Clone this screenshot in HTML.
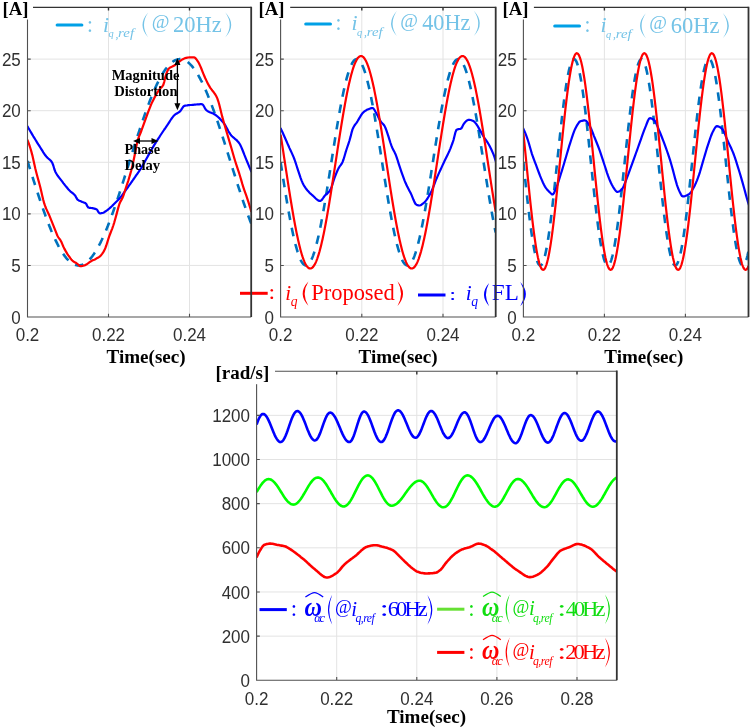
<!DOCTYPE html>
<html><head><meta charset="utf-8"><style>
html,body{margin:0;padding:0;background:#fff;width:751px;height:728px;overflow:hidden}
svg{display:block;will-change:transform}
</style></head><body><svg width="751" height="728" viewBox="0 0 751 728"><defs><clipPath id="c0"><rect x="27.5" y="7.4" width="223.7" height="309.6"/></clipPath><clipPath id="c1"><rect x="280.6" y="7.4" width="215.1" height="309.6"/></clipPath><clipPath id="c2"><rect x="523.4" y="7.4" width="225.1" height="309.6"/></clipPath><clipPath id="cb"><rect x="256.6" y="371.2" width="360.2" height="309.1"/></clipPath></defs><path d="M27.5 265.43H251.2M27.5 213.85H251.2M27.5 162.28H251.2M27.5 110.70H251.2M27.5 59.12H251.2M108.50 7.4V317.0M189.50 7.4V317.0M280.6 265.43H495.7M280.6 213.85H495.7M280.6 162.28H495.7M280.6 110.70H495.7M280.6 59.12H495.7M361.80 7.4V317.0M443.00 7.4V317.0M523.4 265.43H748.5M523.4 213.85H748.5M523.4 162.28H748.5M523.4 110.70H748.5M523.4 59.12H748.5M604.40 7.4V317.0M685.40 7.4V317.0M256.6 636.14H616.8M256.6 591.98H616.8M256.6 547.82H616.8M256.6 503.66H616.8M256.6 459.50H616.8M256.6 415.34H616.8M336.70 371.2V680.30M416.80 371.2V680.30M496.90 371.2V680.30M577.00 371.2V680.30" stroke="#e3e3e3" stroke-width="1" fill="none"/><g clip-path="url(#c0)" fill="none" stroke-linejoin="round"><path d="M27.5 161.0L28.0 162.6L28.5 164.2L29.0 165.8L29.5 167.4L30.0 169.0L30.5 170.6L31.0 172.2L31.5 173.7L32.0 175.3L32.5 176.9L33.0 178.5L33.5 180.1L34.0 181.6L34.5 183.2L35.0 184.8L35.5 186.3L36.0 187.9L36.5 189.4L37.0 191.0L37.5 192.5L38.0 194.0L38.5 195.5L39.0 197.0L39.5 198.5L40.0 200.0L40.5 201.5L41.0 203.0L41.5 204.5L42.0 205.9L42.5 207.4L43.0 208.8L43.5 210.2L44.0 211.6L44.5 213.0L45.0 214.4L45.5 215.8L46.0 217.1L46.5 218.5L47.0 219.8L47.5 221.1L48.0 222.4L48.5 223.7L49.0 225.0L49.5 226.3L50.0 227.5L50.5 228.7L51.0 230.0L51.5 231.2L52.0 232.3L52.5 233.5L53.0 234.6L53.5 235.8L54.0 236.9L54.5 238.0L55.0 239.1L55.5 240.1L56.0 241.2L56.5 242.2L57.0 243.2L57.5 244.2L58.0 245.1L58.5 246.1L59.0 247.0L59.5 247.9L60.0 248.8L60.5 249.6L61.0 250.5L61.5 251.3L62.0 252.1L62.5 252.9L63.0 253.6L63.5 254.3L64.0 255.1L64.5 255.7L65.0 256.4L65.5 257.0L66.0 257.7L66.5 258.3L67.0 258.8L67.5 259.4L68.0 259.9L68.5 260.4L69.0 260.9L69.5 261.4L70.0 261.8L70.5 262.2L71.0 262.6L71.5 262.9L72.0 263.3L72.5 263.6L73.0 263.9L73.5 264.1L74.0 264.4L74.5 264.6L75.0 264.8L75.5 265.0L76.0 265.1L76.5 265.2L77.0 265.3L77.5 265.4L78.0 265.4L78.5 265.4L79.0 265.4L79.5 265.4L80.0 265.3L80.5 265.2L81.0 265.1L81.5 265.0L82.0 264.9L82.5 264.7L83.0 264.5L83.5 264.2L84.0 264.0L84.5 263.7L85.0 263.4L85.5 263.1L86.0 262.7L86.5 262.3L87.0 261.9L87.5 261.5L88.0 261.1L88.5 260.6L89.0 260.1L89.5 259.6L90.0 259.0L90.5 258.5L91.0 257.9L91.5 257.3L92.0 256.6L92.5 256.0L93.0 255.3L93.5 254.6L94.0 253.9L94.5 253.1L95.0 252.4L95.5 251.6L96.0 250.8L96.5 249.9L97.0 249.1L97.5 248.2L98.0 247.3L98.5 246.4L99.0 245.5L99.5 244.5L100.0 243.5L100.5 242.6L101.0 241.5L101.5 240.5L102.0 239.5L102.5 238.4L103.0 237.3L103.5 236.2L104.0 235.1L104.5 233.9L105.0 232.8L105.5 231.6L106.0 230.4L106.5 229.2L107.0 228.0L107.5 226.7L108.0 225.5L108.5 224.2L109.0 222.9L109.5 221.6L110.0 220.3L110.5 219.0L111.0 217.6L111.5 216.3L112.0 214.9L112.5 213.5L113.0 212.1L113.5 210.7L114.0 209.3L114.5 207.9L115.0 206.4L115.5 205.0L116.0 203.5L116.5 202.1L117.0 200.6L117.5 199.1L118.0 197.6L118.5 196.1L119.0 194.6L119.5 193.1L120.0 191.5L120.5 190.0L121.0 188.5L121.5 186.9L122.0 185.4L122.5 183.8L123.0 182.2L123.5 180.7L124.0 179.1L124.5 177.5L125.0 175.9L125.5 174.3L126.0 172.7L126.5 171.2L127.0 169.6L127.5 168.0L128.0 166.4L128.5 164.8L129.0 163.2L129.5 161.6L130.0 160.0L130.5 158.4L131.0 156.8L131.5 155.2L132.0 153.6L132.5 152.0L133.0 150.4L133.5 148.8L134.0 147.2L134.5 145.7L135.0 144.1L135.5 142.5L136.0 141.0L136.5 139.4L137.0 137.8L137.5 136.3L138.0 134.7L138.5 133.2L139.0 131.7L139.5 130.2L140.0 128.6L140.5 127.1L141.0 125.6L141.5 124.1L142.0 122.7L142.5 121.2L143.0 119.7L143.5 118.3L144.0 116.8L144.5 115.4L145.0 114.0L145.5 112.6L146.0 111.2L146.5 109.8L147.0 108.4L147.5 107.1L148.0 105.7L148.5 104.4L149.0 103.1L149.5 101.8L150.0 100.5L150.5 99.2L151.0 98.0L151.5 96.7L152.0 95.5L152.5 94.3L153.0 93.1L153.5 91.9L154.0 90.8L154.5 89.6L155.0 88.5L155.5 87.4L156.0 86.3L156.5 85.2L157.0 84.2L157.5 83.1L158.0 82.1L158.5 81.1L159.0 80.1L159.5 79.2L160.0 78.3L160.5 77.3L161.0 76.4L161.5 75.6L162.0 74.7L162.5 73.9L163.0 73.1L163.5 72.3L164.0 71.5L164.5 70.8L165.0 70.0L165.5 69.3L166.0 68.6L166.5 68.0L167.0 67.3L167.5 66.7L168.0 66.1L168.5 65.6L169.0 65.0L169.5 64.5L170.0 64.0L170.5 63.5L171.0 63.1L171.5 62.7L172.0 62.3L172.5 61.9L173.0 61.5L173.5 61.2L174.0 60.9L174.5 60.6L175.0 60.3L175.5 60.1L176.0 59.9L176.5 59.7L177.0 59.6L177.5 59.4L178.0 59.3L178.5 59.2L179.0 59.2L179.5 59.1L180.0 59.1L180.5 59.1L181.0 59.2L181.5 59.2L182.0 59.3L182.5 59.4L183.0 59.6L183.5 59.7L184.0 59.9L184.5 60.1L185.0 60.4L185.5 60.6L186.0 60.9L186.5 61.2L187.0 61.6L187.5 61.9L188.0 62.3L188.5 62.7L189.0 63.1L189.5 63.6L190.0 64.1L190.5 64.6L191.0 65.1L191.5 65.6L192.0 66.2L192.5 66.8L193.0 67.4L193.5 68.1L194.0 68.7L194.5 69.4L195.0 70.1L195.5 70.8L196.0 71.6L196.5 72.4L197.0 73.2L197.5 74.0L198.0 74.8L198.5 75.7L199.0 76.6L199.5 77.5L200.0 78.4L200.5 79.3L201.0 80.3L201.5 81.2L202.0 82.2L202.5 83.3L203.0 84.3L203.5 85.4L204.0 86.4L204.5 87.5L205.0 88.6L205.5 89.8L206.0 90.9L206.5 92.1L207.0 93.3L207.5 94.4L208.0 95.7L208.5 96.9L209.0 98.1L209.5 99.4L210.0 100.7L210.5 102.0L211.0 103.3L211.5 104.6L212.0 105.9L212.5 107.3L213.0 108.6L213.5 110.0L214.0 111.4L214.5 112.8L215.0 114.2L215.5 115.6L216.0 117.0L216.5 118.5L217.0 119.9L217.5 121.4L218.0 122.8L218.5 124.3L219.0 125.8L219.5 127.3L220.0 128.8L220.5 130.3L221.0 131.9L221.5 133.4L222.0 134.9L222.5 136.5L223.0 138.0L223.5 139.6L224.0 141.2L224.5 142.7L225.0 144.3L225.5 145.9L226.0 147.4L226.5 149.0L227.0 150.6L227.5 152.2L228.0 153.8L228.5 155.4L229.0 157.0L229.5 158.6L230.0 160.2L230.5 161.8L231.0 163.4L231.5 165.0L232.0 166.6L232.5 168.2L233.0 169.8L233.5 171.4L234.0 172.9L234.5 174.5L235.0 176.1L235.5 177.7L236.0 179.3L236.5 180.9L237.0 182.4L237.5 184.0L238.0 185.6L238.5 187.1L239.0 188.7L239.5 190.2L240.0 191.7L240.5 193.3L241.0 194.8L241.5 196.3L242.0 197.8L242.5 199.3L243.0 200.8L243.5 202.3L244.0 203.7L244.5 205.2L245.0 206.6L245.5 208.1L246.0 209.5L246.5 210.9L247.0 212.3L247.5 213.7L248.0 215.1L248.5 216.5L249.0 217.8L249.5 219.1L250.0 220.5L250.5 221.8L251.0 223.1L251.2 223.6" stroke="#0072bd" stroke-width="2.6" stroke-dasharray="8.6 8"/><path d="M27.3 126.0L28.3 127.8L29.3 129.5L30.3 131.2L31.3 132.9L32.3 134.6L33.3 136.3L34.3 137.9L35.3 139.5L36.3 141.2L37.3 142.8L38.3 144.4L39.3 145.9L40.3 147.5L41.3 149.1L42.3 150.7L43.3 152.3L44.3 153.8L45.3 155.3L46.3 156.5L47.3 157.6L48.3 158.5L49.3 159.3L50.3 160.2L51.3 161.3L52.3 162.8L53.3 165.5L54.3 169.0L55.3 171.7L56.3 173.5L57.3 175.1L58.3 176.5L59.3 177.8L60.3 179.1L61.3 180.4L62.3 181.7L63.3 183.1L64.3 184.3L65.3 185.6L66.3 186.8L67.3 188.0L68.3 189.2L69.3 190.3L70.3 191.3L71.3 192.1L72.3 192.9L73.3 193.7L74.3 194.6L75.3 195.8L76.3 197.7L77.3 199.3L78.3 200.1L79.3 200.7L80.3 201.1L81.3 201.5L82.3 202.0L83.3 202.3L84.3 202.7L85.3 203.1L86.3 204.0L87.3 206.2L88.3 207.5L89.3 207.8L90.3 207.9L91.3 208.0L92.3 208.1L93.3 208.3L94.3 208.6L95.3 208.9L96.3 209.2L97.3 210.0L98.3 211.9L99.3 213.2L100.3 213.3L101.3 213.2L102.3 213.0L103.3 212.7L104.3 212.2L105.3 211.5L106.3 210.8L107.3 210.1L108.3 209.3L109.3 208.5L110.3 207.6L111.3 206.7L112.3 205.8L113.3 204.7L114.3 203.7L115.3 202.7L116.3 201.7L117.3 200.8L118.3 199.8L119.3 198.7L120.3 197.6L121.3 196.3L122.3 195.0L123.3 193.6L124.3 192.2L125.3 190.8L126.3 189.4L127.3 188.0L128.3 186.6L129.3 185.2L130.3 183.8L131.3 182.4L132.3 181.0L133.3 179.5L134.3 178.1L135.3 176.7L136.3 175.2L137.3 173.8L138.3 172.4L139.3 170.9L140.3 169.4L141.3 167.8L142.3 166.1L143.3 164.4L144.3 162.6L145.3 160.8L146.3 159.0L147.3 157.2L148.3 155.4L149.3 153.6L150.3 151.8L151.3 150.0L152.3 148.3L153.3 146.6L154.3 144.9L155.3 143.3L156.3 141.7L157.3 140.2L158.3 138.6L159.3 137.1L160.3 135.5L161.3 134.0L162.3 132.5L163.3 131.0L164.3 129.5L165.3 128.1L166.3 126.6L167.3 125.2L168.3 123.7L169.3 122.1L170.3 120.5L171.3 119.0L172.3 117.6L173.3 116.3L174.3 115.3L175.3 114.4L176.3 113.8L177.3 113.2L178.3 112.6L179.3 112.0L180.3 111.1L181.3 109.7L182.3 108.1L183.3 106.7L184.3 105.9L185.3 105.7L186.3 105.5L187.3 105.4L188.3 105.2L189.3 105.1L190.3 105.0L191.3 105.0L192.3 104.9L193.3 104.8L194.3 104.7L195.3 104.6L196.3 104.5L197.3 104.4L198.3 104.3L199.3 104.3L200.3 104.2L201.3 104.2L202.3 104.3L203.3 105.3L204.3 107.0L205.3 108.9L206.3 110.2L207.3 110.9L208.3 111.5L209.3 112.0L210.3 112.4L211.3 112.8L212.3 113.2L213.3 113.6L214.3 114.2L215.3 114.8L216.3 115.5L217.3 116.3L218.3 117.2L219.3 118.1L220.3 119.2L221.3 120.3L222.3 121.4L223.3 122.6L224.3 123.9L225.3 125.4L226.3 127.2L227.3 129.1L228.3 131.0L229.3 132.7L230.3 134.2L231.3 135.5L232.3 136.5L233.3 137.4L234.3 138.2L235.3 139.1L236.3 139.9L237.3 140.9L238.3 142.0L239.3 143.3L240.3 145.0L241.3 147.1L242.3 149.5L243.3 152.0L244.3 154.7L245.3 157.2L246.3 159.6L247.3 162.0L248.3 164.4L249.3 166.8L250.3 169.2L251.3 171.7L251.4 171.9" stroke="#0000ff" stroke-width="2.2"/><path d="M27.3 139.6L28.3 142.1L29.3 144.9L30.3 148.0L31.3 151.4L32.3 155.1L33.3 159.4L34.3 164.1L35.3 168.6L36.3 172.5L37.3 176.3L38.3 179.9L39.3 183.5L40.3 187.3L41.3 191.5L42.3 195.9L43.3 200.0L44.3 203.7L45.3 206.5L46.3 208.9L47.3 211.1L48.3 213.2L49.3 215.4L50.3 217.8L51.3 220.3L52.3 222.8L53.3 225.3L54.3 227.8L55.3 230.3L56.3 232.9L57.3 235.5L58.3 237.3L59.3 238.6L60.3 240.0L61.3 241.8L62.3 244.1L63.3 246.5L64.3 248.6L65.3 250.4L66.3 252.2L67.3 253.8L68.3 255.3L69.3 256.7L70.3 258.1L71.3 259.4L72.3 260.5L73.3 261.4L74.3 262.0L75.3 262.6L76.3 263.1L77.3 263.8L78.3 264.7L79.3 265.6L80.3 266.2L81.3 266.2L82.3 266.0L83.3 265.7L84.3 265.4L85.3 265.1L86.3 264.6L87.3 263.9L88.3 263.2L89.3 262.4L90.3 261.7L91.3 261.1L92.3 260.6L93.3 260.1L94.3 259.7L95.3 259.2L96.3 258.6L97.3 258.1L98.3 257.5L99.3 256.9L100.3 256.0L101.3 254.9L102.3 253.6L103.3 252.1L104.3 250.4L105.3 248.2L106.3 245.5L107.3 242.3L108.3 239.1L109.3 236.1L110.3 233.5L111.3 230.9L112.3 228.3L113.3 225.5L114.3 222.3L115.3 218.7L116.3 215.1L117.3 211.4L118.3 207.6L119.3 204.2L120.3 201.9L121.3 200.1L122.3 198.3L123.3 195.8L124.3 192.8L125.3 189.5L126.3 186.5L127.3 183.6L128.3 180.6L129.3 177.3L130.3 173.9L131.3 170.3L132.3 166.2L133.3 161.7L134.3 157.0L135.3 152.0L136.3 146.5L137.3 141.7L138.3 138.5L139.3 135.9L140.3 133.5L141.3 131.0L142.3 128.2L143.3 125.4L144.3 122.6L145.3 119.8L146.3 117.1L147.3 114.4L148.3 111.7L149.3 109.1L150.3 106.6L151.3 104.2L152.3 101.9L153.3 99.9L154.3 97.9L155.3 96.1L156.3 94.3L157.3 92.6L158.3 91.1L159.3 89.6L160.3 88.4L161.3 87.5L162.3 86.4L163.3 84.9L164.3 81.6L165.3 77.0L166.3 73.7L167.3 71.3L168.3 69.3L169.3 68.1L170.3 67.4L171.3 67.0L172.3 66.6L173.3 66.1L174.3 65.6L175.3 64.8L176.3 64.0L177.3 63.1L178.3 62.2L179.3 61.5L180.3 60.8L181.3 60.1L182.3 59.4L183.3 58.9L184.3 58.5L185.3 58.1L186.3 57.8L187.3 57.6L188.3 57.5L189.3 57.4L190.3 57.4L191.3 57.3L192.3 57.3L193.3 57.3L194.3 57.3L195.3 58.0L196.3 59.2L197.3 60.6L198.3 62.1L199.3 64.0L200.3 66.1L201.3 68.5L202.3 71.1L203.3 73.6L204.3 76.0L205.3 78.3L206.3 80.4L207.3 82.4L208.3 84.4L209.3 86.2L210.3 87.8L211.3 89.2L212.3 90.5L213.3 91.7L214.3 93.1L215.3 94.5L216.3 96.3L217.3 98.4L218.3 101.3L219.3 104.8L220.3 108.8L221.3 112.9L222.3 116.9L223.3 120.5L224.3 124.0L225.3 127.4L226.3 130.9L227.3 134.3L228.3 137.6L229.3 141.0L230.3 144.4L231.3 147.8L232.3 151.3L233.3 154.7L234.3 158.2L235.3 161.5L236.3 164.6L237.3 167.7L238.3 170.7L239.3 173.7L240.3 177.0L241.3 180.4L242.3 183.9L243.3 187.1L244.3 190.1L245.3 192.9L246.3 195.7L247.3 198.6L248.3 201.7L249.3 204.9L250.3 208.2L251.3 211.7L251.4 212.0" stroke="#ff0000" stroke-width="2.2"/></g><g clip-path="url(#c1)" fill="none" stroke-linejoin="round"><path d="M280.6 162.3L281.1 165.5L281.6 168.7L282.1 171.8L282.6 175.0L283.1 178.2L283.6 181.3L284.1 184.4L284.6 187.6L285.1 190.6L285.6 193.7L286.1 196.7L286.6 199.7L287.1 202.7L287.6 205.6L288.1 208.5L288.6 211.3L289.1 214.1L289.6 216.8L290.1 219.5L290.6 222.1L291.1 224.7L291.6 227.2L292.1 229.7L292.6 232.0L293.1 234.4L293.6 236.6L294.1 238.8L294.6 240.9L295.1 242.9L295.6 244.9L296.1 246.7L296.6 248.5L297.1 250.2L297.6 251.9L298.1 253.4L298.6 254.9L299.1 256.2L299.6 257.5L300.1 258.7L300.6 259.8L301.1 260.8L301.6 261.7L302.1 262.5L302.6 263.2L303.1 263.8L303.6 264.3L304.1 264.7L304.6 265.1L305.1 265.3L305.6 265.4L306.1 265.4L306.6 265.3L307.1 265.2L307.6 264.9L308.1 264.5L308.6 264.1L309.1 263.5L309.6 262.8L310.1 262.1L310.6 261.2L311.1 260.3L311.6 259.2L312.1 258.1L312.6 256.9L313.1 255.6L313.6 254.1L314.1 252.7L314.6 251.1L315.1 249.4L315.6 247.7L316.1 245.8L316.6 243.9L317.1 241.9L317.6 239.8L318.1 237.7L318.6 235.5L319.1 233.2L319.6 230.9L320.1 228.4L320.6 226.0L321.1 223.4L321.6 220.8L322.1 218.2L322.6 215.5L323.1 212.7L323.6 209.9L324.1 207.0L324.6 204.1L325.1 201.2L325.6 198.2L326.1 195.2L326.6 192.2L327.1 189.1L327.6 186.0L328.1 182.9L328.6 179.7L329.1 176.6L329.6 173.4L330.1 170.2L330.6 167.1L331.1 163.9L331.6 160.7L332.1 157.5L332.6 154.3L333.1 151.1L333.6 148.0L334.1 144.8L334.6 141.7L335.1 138.5L335.6 135.4L336.1 132.4L336.6 129.3L337.1 126.3L337.6 123.4L338.1 120.4L338.6 117.5L339.1 114.7L339.6 111.9L340.1 109.1L340.6 106.4L341.1 103.7L341.6 101.1L342.1 98.6L342.6 96.1L343.1 93.7L343.6 91.3L344.1 89.1L344.6 86.8L345.1 84.7L345.6 82.6L346.1 80.6L346.6 78.7L347.1 76.9L347.6 75.1L348.1 73.5L348.6 71.9L349.1 70.4L349.6 69.0L350.1 67.7L350.6 66.5L351.1 65.3L351.6 64.3L352.1 63.3L352.6 62.5L353.1 61.7L353.6 61.0L354.1 60.5L354.6 60.0L355.1 59.6L355.6 59.4L356.1 59.2L356.6 59.1L357.1 59.2L357.6 59.3L358.1 59.5L358.6 59.8L359.1 60.2L359.6 60.8L360.1 61.4L360.6 62.1L361.1 62.9L361.6 63.8L362.1 64.8L362.6 65.9L363.1 67.1L363.6 68.3L364.1 69.7L364.6 71.1L365.1 72.7L365.6 74.3L366.1 76.0L366.6 77.8L367.1 79.7L367.6 81.6L368.1 83.7L368.6 85.8L369.1 87.9L369.6 90.2L370.1 92.5L370.6 94.9L371.1 97.3L371.6 99.9L372.1 102.4L372.6 105.1L373.1 107.7L373.6 110.5L374.1 113.3L374.6 116.1L375.1 119.0L375.6 121.9L376.1 124.8L376.6 127.8L377.1 130.9L377.6 133.9L378.1 137.0L378.6 140.1L379.1 143.2L379.6 146.4L380.1 149.5L380.6 152.7L381.1 155.9L381.6 159.1L382.1 162.3L382.6 165.5L383.1 168.7L383.6 171.8L384.1 175.0L384.6 178.2L385.1 181.3L385.6 184.4L386.1 187.6L386.6 190.6L387.1 193.7L387.6 196.7L388.1 199.7L388.6 202.7L389.1 205.6L389.6 208.5L390.1 211.3L390.6 214.1L391.1 216.8L391.6 219.5L392.1 222.1L392.6 224.7L393.1 227.2L393.6 229.7L394.1 232.0L394.6 234.4L395.1 236.6L395.6 238.8L396.1 240.9L396.6 242.9L397.1 244.9L397.6 246.7L398.1 248.5L398.6 250.2L399.1 251.9L399.6 253.4L400.1 254.9L400.6 256.2L401.1 257.5L401.6 258.7L402.1 259.8L402.6 260.8L403.1 261.7L403.6 262.5L404.1 263.2L404.6 263.8L405.1 264.3L405.6 264.7L406.1 265.1L406.6 265.3L407.1 265.4L407.6 265.4L408.1 265.3L408.6 265.2L409.1 264.9L409.6 264.5L410.1 264.1L410.6 263.5L411.1 262.8L411.6 262.1L412.1 261.2L412.6 260.3L413.1 259.2L413.6 258.1L414.1 256.9L414.6 255.6L415.1 254.1L415.6 252.7L416.1 251.1L416.6 249.4L417.1 247.7L417.6 245.8L418.1 243.9L418.6 241.9L419.1 239.8L419.6 237.7L420.1 235.5L420.6 233.2L421.1 230.9L421.6 228.4L422.1 226.0L422.6 223.4L423.1 220.8L423.6 218.2L424.1 215.5L424.6 212.7L425.1 209.9L425.6 207.0L426.1 204.1L426.6 201.2L427.1 198.2L427.6 195.2L428.1 192.2L428.6 189.1L429.1 186.0L429.6 182.9L430.1 179.7L430.6 176.6L431.1 173.4L431.6 170.2L432.1 167.1L432.6 163.9L433.1 160.7L433.6 157.5L434.1 154.3L434.6 151.1L435.1 148.0L435.6 144.8L436.1 141.7L436.6 138.5L437.1 135.4L437.6 132.4L438.1 129.3L438.6 126.3L439.1 123.4L439.6 120.4L440.1 117.5L440.6 114.7L441.1 111.9L441.6 109.1L442.1 106.4L442.6 103.7L443.1 101.1L443.6 98.6L444.1 96.1L444.6 93.7L445.1 91.3L445.6 89.1L446.1 86.8L446.6 84.7L447.1 82.6L447.6 80.6L448.1 78.7L448.6 76.9L449.1 75.1L449.6 73.5L450.1 71.9L450.6 70.4L451.1 69.0L451.6 67.7L452.1 66.5L452.6 65.3L453.1 64.3L453.6 63.3L454.1 62.5L454.6 61.7L455.1 61.0L455.6 60.5L456.1 60.0L456.6 59.6L457.1 59.4L457.6 59.2L458.1 59.1L458.6 59.2L459.1 59.3L459.6 59.5L460.1 59.8L460.6 60.2L461.1 60.8L461.6 61.4L462.1 62.1L462.6 62.9L463.1 63.8L463.6 64.8L464.1 65.9L464.6 67.1L465.1 68.3L465.6 69.7L466.1 71.1L466.6 72.7L467.1 74.3L467.6 76.0L468.1 77.8L468.6 79.7L469.1 81.6L469.6 83.7L470.1 85.8L470.6 87.9L471.1 90.2L471.6 92.5L472.1 94.9L472.6 97.3L473.1 99.9L473.6 102.4L474.1 105.1L474.6 107.7L475.1 110.5L475.6 113.3L476.1 116.1L476.6 119.0L477.1 121.9L477.6 124.8L478.1 127.8L478.6 130.9L479.1 133.9L479.6 137.0L480.1 140.1L480.6 143.2L481.1 146.4L481.6 149.5L482.1 152.7L482.6 155.9L483.1 159.1L483.6 162.3L484.1 165.5L484.6 168.7L485.1 171.8L485.6 175.0L486.1 178.2L486.6 181.3L487.1 184.4L487.6 187.6L488.1 190.6L488.6 193.7L489.1 196.7L489.6 199.7L490.1 202.7L490.6 205.6L491.1 208.5L491.6 211.3L492.1 214.1L492.6 216.8L493.1 219.5L493.6 222.1L494.1 224.7L494.6 227.2L495.1 229.7L495.6 232.0L495.7 232.5" stroke="#0072bd" stroke-width="2.6" stroke-dasharray="8.6 8"/><path d="M280.5 128.0L281.5 130.2L282.5 132.3L283.5 134.5L284.5 136.8L285.5 139.0L286.5 141.3L287.5 143.6L288.5 145.8L289.5 148.1L290.5 150.2L291.5 152.4L292.5 154.6L293.5 156.9L294.5 159.5L295.5 162.4L296.5 165.5L297.5 168.6L298.5 171.6L299.5 174.6L300.5 177.6L301.5 180.3L302.5 182.7L303.5 184.7L304.5 186.4L305.5 187.9L306.5 189.3L307.5 190.5L308.5 191.6L309.5 192.7L310.5 193.6L311.5 194.5L312.5 195.4L313.5 196.3L314.5 197.3L315.5 198.3L316.5 199.2L317.5 200.0L318.5 200.6L319.5 200.9L320.5 200.9L321.5 200.2L322.5 199.0L323.5 197.5L324.5 196.1L325.5 195.0L326.5 194.1L327.5 193.3L328.5 192.3L329.5 191.2L330.5 189.6L331.5 187.2L332.5 184.2L333.5 181.0L334.5 177.9L335.5 175.3L336.5 172.8L337.5 170.5L338.5 168.4L339.5 166.7L340.5 165.4L341.5 164.0L342.5 162.2L343.5 159.5L344.5 156.2L345.5 152.7L346.5 149.5L347.5 146.5L348.5 143.6L349.5 140.5L350.5 136.9L351.5 132.9L352.5 129.4L353.5 127.2L354.5 125.5L355.5 124.1L356.5 122.8L357.5 121.3L358.5 119.6L359.5 117.9L360.5 116.2L361.5 114.6L362.5 113.2L363.5 112.2L364.5 111.4L365.5 110.7L366.5 110.1L367.5 109.6L368.5 109.2L369.5 108.8L370.5 108.4L371.5 108.1L372.5 108.0L373.5 108.5L374.5 110.0L375.5 111.8L376.5 113.5L377.5 115.4L378.5 117.5L379.5 119.4L380.5 121.2L381.5 122.5L382.5 123.5L383.5 124.5L384.5 125.9L385.5 128.0L386.5 130.7L387.5 133.7L388.5 136.7L389.5 139.8L390.5 143.0L391.5 145.9L392.5 148.2L393.5 150.2L394.5 152.1L395.5 154.2L396.5 156.8L397.5 159.8L398.5 163.1L399.5 166.2L400.5 169.1L401.5 172.1L402.5 174.9L403.5 177.7L404.5 180.4L405.5 182.8L406.5 185.0L407.5 187.1L408.5 189.0L409.5 190.9L410.5 192.8L411.5 194.9L412.5 197.3L413.5 199.8L414.5 202.1L415.5 203.9L416.5 204.8L417.5 205.2L418.5 205.4L419.5 205.5L420.5 205.2L421.5 204.7L422.5 203.9L423.5 203.1L424.5 202.2L425.5 201.2L426.5 199.9L427.5 198.5L428.5 196.8L429.5 195.1L430.5 193.2L431.5 191.2L432.5 188.8L433.5 186.3L434.5 183.8L435.5 181.2L436.5 178.7L437.5 176.4L438.5 174.1L439.5 171.9L440.5 169.7L441.5 167.6L442.5 165.4L443.5 163.3L444.5 161.1L445.5 159.1L446.5 157.0L447.5 155.0L448.5 152.9L449.5 150.7L450.5 148.3L451.5 145.7L452.5 143.0L453.5 140.1L454.5 136.1L455.5 132.1L456.5 129.8L457.5 129.4L458.5 129.2L459.5 129.0L460.5 128.8L461.5 128.2L462.5 126.4L463.5 124.3L464.5 122.9L465.5 121.8L466.5 120.9L467.5 120.2L468.5 119.8L469.5 119.8L470.5 120.0L471.5 120.3L472.5 120.7L473.5 121.1L474.5 121.9L475.5 123.1L476.5 124.3L477.5 125.8L478.5 127.6L479.5 129.4L480.5 131.1L481.5 132.9L482.5 134.7L483.5 136.4L484.5 138.0L485.5 139.5L486.5 140.9L487.5 142.4L488.5 144.0L489.5 145.8L490.5 147.8L491.5 149.8L492.5 152.1L493.5 154.4L494.5 157.1L495.5 160.3L496.5 164.0" stroke="#0000ff" stroke-width="2.2"/><path d="M280.6 134.6L281.1 137.7L281.6 141.0L282.1 144.2L282.6 147.4L283.1 150.7L283.6 154.0L284.1 157.3L284.6 160.5L285.1 163.8L285.6 167.1L286.1 170.4L286.6 173.7L287.1 176.9L287.6 180.2L288.1 183.4L288.6 186.6L289.1 189.8L289.6 193.0L290.1 196.1L290.6 199.2L291.1 202.3L291.6 205.3L292.1 208.3L292.6 211.2L293.1 214.1L293.6 217.0L294.1 219.8L294.6 222.5L295.1 225.2L295.6 227.8L296.1 230.4L296.6 232.9L297.1 235.3L297.6 237.6L298.1 239.9L298.6 242.1L299.1 244.3L299.6 246.3L300.1 248.3L300.6 250.2L301.1 252.0L301.6 253.7L302.1 255.3L302.6 256.9L303.1 258.3L303.6 259.7L304.1 260.9L304.6 262.1L305.1 263.2L305.6 264.2L306.1 265.1L306.6 265.8L307.1 266.5L307.6 267.1L308.1 267.6L308.6 268.0L309.1 268.3L309.6 268.4L310.1 268.5L310.6 268.5L311.1 268.4L311.6 268.1L312.1 267.8L312.6 267.4L313.1 266.9L313.6 266.2L314.1 265.5L314.6 264.7L315.1 263.7L315.6 262.7L316.1 261.6L316.6 260.4L317.1 259.1L317.6 257.7L318.1 256.2L318.6 254.6L319.1 252.9L319.6 251.2L320.1 249.3L320.6 247.4L321.1 245.4L321.6 243.3L322.1 241.1L322.6 238.9L323.1 236.6L323.6 234.2L324.1 231.7L324.6 229.2L325.1 226.6L325.6 224.0L326.1 221.3L326.6 218.5L327.1 215.7L327.6 212.8L328.1 209.9L328.6 207.0L329.1 204.0L329.6 200.9L330.1 197.8L330.6 194.7L331.1 191.6L331.6 188.4L332.1 185.2L332.6 182.0L333.1 178.7L333.6 175.5L334.1 172.2L334.6 168.9L335.1 165.6L335.6 162.4L336.1 159.1L336.6 155.8L337.1 152.5L337.6 149.2L338.1 146.0L338.6 142.7L339.1 139.5L339.6 136.3L340.1 133.1L340.6 130.0L341.1 126.9L341.6 123.8L342.1 120.7L342.6 117.7L343.1 114.8L343.6 111.9L344.1 109.0L344.6 106.2L345.1 103.4L345.6 100.7L346.1 98.0L346.6 95.5L347.1 92.9L347.6 90.5L348.1 88.1L348.6 85.8L349.1 83.5L349.6 81.4L350.1 79.3L350.6 77.3L351.1 75.3L351.6 73.5L352.1 71.7L352.6 70.0L353.1 68.4L353.6 66.9L354.1 65.5L354.6 64.2L355.1 63.0L355.6 61.9L356.1 60.9L356.6 59.9L357.1 59.1L357.6 58.4L358.1 57.7L358.6 57.2L359.1 56.8L359.6 56.4L360.1 56.2L360.6 56.1L361.1 56.0L361.6 56.1L362.1 56.3L362.6 56.6L363.1 56.9L363.6 57.4L364.1 58.0L364.6 58.7L365.1 59.5L365.6 60.3L366.1 61.3L366.6 62.4L367.1 63.5L367.6 64.8L368.1 66.2L368.6 67.6L369.1 69.1L369.6 70.8L370.1 72.5L370.6 74.3L371.1 76.2L371.6 78.1L372.1 80.2L372.6 82.3L373.1 84.5L373.6 86.8L374.1 89.1L374.6 91.6L375.1 94.1L375.6 96.6L376.1 99.2L376.6 101.9L377.1 104.6L377.6 107.4L378.1 110.3L378.6 113.2L379.1 116.1L379.6 119.1L380.1 122.1L380.6 125.2L381.1 128.3L381.6 131.4L382.1 134.6L382.6 137.7L383.1 141.0L383.6 144.2L384.1 147.4L384.6 150.7L385.1 154.0L385.6 157.3L386.1 160.5L386.6 163.8L387.1 167.1L387.6 170.4L388.1 173.7L388.6 176.9L389.1 180.2L389.6 183.4L390.1 186.6L390.6 189.8L391.1 193.0L391.6 196.1L392.1 199.2L392.6 202.3L393.1 205.3L393.6 208.3L394.1 211.2L394.6 214.1L395.1 217.0L395.6 219.8L396.1 222.5L396.6 225.2L397.1 227.8L397.6 230.4L398.1 232.9L398.6 235.3L399.1 237.6L399.6 239.9L400.1 242.1L400.6 244.3L401.1 246.3L401.6 248.3L402.1 250.2L402.6 252.0L403.1 253.7L403.6 255.3L404.1 256.9L404.6 258.3L405.1 259.7L405.6 260.9L406.1 262.1L406.6 263.2L407.1 264.2L407.6 265.1L408.1 265.8L408.6 266.5L409.1 267.1L409.6 267.6L410.1 268.0L410.6 268.3L411.1 268.4L411.6 268.5L412.1 268.5L412.6 268.4L413.1 268.1L413.6 267.8L414.1 267.4L414.6 266.9L415.1 266.2L415.6 265.5L416.1 264.7L416.6 263.7L417.1 262.7L417.6 261.6L418.1 260.4L418.6 259.1L419.1 257.7L419.6 256.2L420.1 254.6L420.6 252.9L421.1 251.2L421.6 249.3L422.1 247.4L422.6 245.4L423.1 243.3L423.6 241.1L424.1 238.9L424.6 236.6L425.1 234.2L425.6 231.7L426.1 229.2L426.6 226.6L427.1 224.0L427.6 221.3L428.1 218.5L428.6 215.7L429.1 212.8L429.6 209.9L430.1 207.0L430.6 204.0L431.1 200.9L431.6 197.8L432.1 194.7L432.6 191.6L433.1 188.4L433.6 185.2L434.1 182.0L434.6 178.7L435.1 175.5L435.6 172.2L436.1 168.9L436.6 165.6L437.1 162.4L437.6 159.1L438.1 155.8L438.6 152.5L439.1 149.2L439.6 146.0L440.1 142.7L440.6 139.5L441.1 136.3L441.6 133.1L442.1 130.0L442.6 126.9L443.1 123.8L443.6 120.7L444.1 117.7L444.6 114.8L445.1 111.9L445.6 109.0L446.1 106.2L446.6 103.4L447.1 100.7L447.6 98.0L448.1 95.5L448.6 92.9L449.1 90.5L449.6 88.1L450.1 85.8L450.6 83.5L451.1 81.4L451.6 79.3L452.1 77.3L452.6 75.3L453.1 73.5L453.6 71.7L454.1 70.0L454.6 68.4L455.1 66.9L455.6 65.5L456.1 64.2L456.6 63.0L457.1 61.9L457.6 60.9L458.1 59.9L458.6 59.1L459.1 58.4L459.6 57.7L460.1 57.2L460.6 56.8L461.1 56.4L461.6 56.2L462.1 56.1L462.6 56.0L463.1 56.1L463.6 56.3L464.1 56.6L464.6 56.9L465.1 57.4L465.6 58.0L466.1 58.7L466.6 59.5L467.1 60.3L467.6 61.3L468.1 62.4L468.6 63.5L469.1 64.8L469.6 66.2L470.1 67.6L470.6 69.1L471.1 70.8L471.6 72.5L472.1 74.3L472.6 76.2L473.1 78.1L473.6 80.2L474.1 82.3L474.6 84.5L475.1 86.8L475.6 89.1L476.1 91.6L476.6 94.1L477.1 96.6L477.6 99.2L478.1 101.9L478.6 104.6L479.1 107.4L479.6 110.3L480.1 113.2L480.6 116.1L481.1 119.1L481.6 122.1L482.1 125.2L482.6 128.3L483.1 131.4L483.6 134.6L484.1 137.7L484.6 141.0L485.1 144.2L485.6 147.4L486.1 150.7L486.6 154.0L487.1 157.3L487.6 160.5L488.1 163.8L488.6 167.1L489.1 170.4L489.6 173.7L490.1 176.9L490.6 180.2L491.1 183.4L491.6 186.6L492.1 189.8L492.6 193.0L493.1 196.1L493.6 199.2L494.1 202.3L494.6 205.3L495.1 208.3L495.6 211.2L495.7 211.8" stroke="#ff0000" stroke-width="2.2"/></g><g clip-path="url(#c2)" fill="none" stroke-linejoin="round"><path d="M523.4 162.3L523.9 167.1L524.4 171.9L524.9 176.6L525.4 181.4L525.9 186.1L526.4 190.7L526.9 195.3L527.4 199.8L527.9 204.2L528.4 208.6L528.9 212.8L529.4 216.9L529.9 220.9L530.4 224.8L530.9 228.6L531.4 232.2L531.9 235.6L532.4 238.9L532.9 242.1L533.4 245.0L533.9 247.8L534.4 250.4L534.9 252.8L535.4 255.0L535.9 257.0L536.4 258.8L536.9 260.4L537.4 261.8L537.9 262.9L538.4 263.9L538.9 264.6L539.4 265.1L539.9 265.4L540.4 265.4L540.9 265.3L541.4 264.9L541.9 264.2L542.4 263.4L542.9 262.4L543.4 261.1L543.9 259.6L544.4 257.9L544.9 256.0L545.4 253.9L545.9 251.6L546.4 249.1L546.9 246.4L547.4 243.6L547.9 240.5L548.4 237.3L548.9 233.9L549.4 230.4L549.9 226.7L550.4 222.9L550.9 219.0L551.4 214.9L551.9 210.7L552.4 206.4L552.9 202.0L553.4 197.6L553.9 193.0L554.4 188.4L554.9 183.7L555.4 179.0L555.9 174.2L556.4 169.5L556.9 164.7L557.4 159.9L557.9 155.1L558.4 150.3L558.9 145.5L559.4 140.8L559.9 136.2L560.4 131.5L560.9 127.0L561.4 122.5L561.9 118.1L562.4 113.8L562.9 109.7L563.4 105.6L563.9 101.6L564.4 97.8L564.9 94.2L565.4 90.6L565.9 87.2L566.4 84.0L566.9 81.0L567.4 78.1L567.9 75.4L568.4 72.9L568.9 70.6L569.4 68.5L569.9 66.6L570.4 64.9L570.9 63.5L571.4 62.2L571.9 61.1L572.4 60.3L572.9 59.7L573.4 59.3L573.9 59.1L574.4 59.2L574.9 59.5L575.4 60.0L575.9 60.7L576.4 61.6L576.9 62.8L577.4 64.2L577.9 65.8L578.4 67.6L578.9 69.6L579.4 71.8L579.9 74.2L580.4 76.8L580.9 79.5L581.4 82.5L581.9 85.6L582.4 88.9L582.9 92.4L583.4 96.0L583.9 99.7L584.4 103.6L584.9 107.6L585.4 111.7L585.9 116.0L586.4 120.3L586.9 124.7L587.4 129.3L587.9 133.8L588.4 138.5L588.9 143.2L589.4 147.9L589.9 152.7L590.4 157.5L590.9 162.3L591.4 167.1L591.9 171.9L592.4 176.6L592.9 181.4L593.4 186.1L593.9 190.7L594.4 195.3L594.9 199.8L595.4 204.2L595.9 208.6L596.4 212.8L596.9 216.9L597.4 220.9L597.9 224.8L598.4 228.6L598.9 232.2L599.4 235.6L599.9 238.9L600.4 242.1L600.9 245.0L601.4 247.8L601.9 250.4L602.4 252.8L602.9 255.0L603.4 257.0L603.9 258.8L604.4 260.4L604.9 261.8L605.4 262.9L605.9 263.9L606.4 264.6L606.9 265.1L607.4 265.4L607.9 265.4L608.4 265.3L608.9 264.9L609.4 264.2L609.9 263.4L610.4 262.4L610.9 261.1L611.4 259.6L611.9 257.9L612.4 256.0L612.9 253.9L613.4 251.6L613.9 249.1L614.4 246.4L614.9 243.6L615.4 240.5L615.9 237.3L616.4 233.9L616.9 230.4L617.4 226.7L617.9 222.9L618.4 219.0L618.9 214.9L619.4 210.7L619.9 206.4L620.4 202.0L620.9 197.6L621.4 193.0L621.9 188.4L622.4 183.7L622.9 179.0L623.4 174.2L623.9 169.5L624.4 164.7L624.9 159.9L625.4 155.1L625.9 150.3L626.4 145.5L626.9 140.8L627.4 136.2L627.9 131.5L628.4 127.0L628.9 122.5L629.4 118.1L629.9 113.8L630.4 109.7L630.9 105.6L631.4 101.6L631.9 97.8L632.4 94.2L632.9 90.6L633.4 87.2L633.9 84.0L634.4 81.0L634.9 78.1L635.4 75.4L635.9 72.9L636.4 70.6L636.9 68.5L637.4 66.6L637.9 64.9L638.4 63.5L638.9 62.2L639.4 61.1L639.9 60.3L640.4 59.7L640.9 59.3L641.4 59.1L641.9 59.2L642.4 59.5L642.9 60.0L643.4 60.7L643.9 61.6L644.4 62.8L644.9 64.2L645.4 65.8L645.9 67.6L646.4 69.6L646.9 71.8L647.4 74.2L647.9 76.8L648.4 79.5L648.9 82.5L649.4 85.6L649.9 88.9L650.4 92.4L650.9 96.0L651.4 99.7L651.9 103.6L652.4 107.6L652.9 111.7L653.4 116.0L653.9 120.3L654.4 124.7L654.9 129.3L655.4 133.8L655.9 138.5L656.4 143.2L656.9 147.9L657.4 152.7L657.9 157.5L658.4 162.3L658.9 167.1L659.4 171.9L659.9 176.6L660.4 181.4L660.9 186.1L661.4 190.7L661.9 195.3L662.4 199.8L662.9 204.2L663.4 208.6L663.9 212.8L664.4 216.9L664.9 220.9L665.4 224.8L665.9 228.6L666.4 232.2L666.9 235.6L667.4 238.9L667.9 242.1L668.4 245.0L668.9 247.8L669.4 250.4L669.9 252.8L670.4 255.0L670.9 257.0L671.4 258.8L671.9 260.4L672.4 261.8L672.9 262.9L673.4 263.9L673.9 264.6L674.4 265.1L674.9 265.4L675.4 265.4L675.9 265.3L676.4 264.9L676.9 264.2L677.4 263.4L677.9 262.4L678.4 261.1L678.9 259.6L679.4 257.9L679.9 256.0L680.4 253.9L680.9 251.6L681.4 249.1L681.9 246.4L682.4 243.6L682.9 240.5L683.4 237.3L683.9 233.9L684.4 230.4L684.9 226.7L685.4 222.9L685.9 219.0L686.4 214.9L686.9 210.7L687.4 206.4L687.9 202.0L688.4 197.6L688.9 193.0L689.4 188.4L689.9 183.7L690.4 179.0L690.9 174.2L691.4 169.5L691.9 164.7L692.4 159.9L692.9 155.1L693.4 150.3L693.9 145.5L694.4 140.8L694.9 136.2L695.4 131.5L695.9 127.0L696.4 122.5L696.9 118.1L697.4 113.8L697.9 109.7L698.4 105.6L698.9 101.6L699.4 97.8L699.9 94.2L700.4 90.6L700.9 87.2L701.4 84.0L701.9 81.0L702.4 78.1L702.9 75.4L703.4 72.9L703.9 70.6L704.4 68.5L704.9 66.6L705.4 64.9L705.9 63.5L706.4 62.2L706.9 61.1L707.4 60.3L707.9 59.7L708.4 59.3L708.9 59.1L709.4 59.2L709.9 59.5L710.4 60.0L710.9 60.7L711.4 61.6L711.9 62.8L712.4 64.2L712.9 65.8L713.4 67.6L713.9 69.6L714.4 71.8L714.9 74.2L715.4 76.8L715.9 79.5L716.4 82.5L716.9 85.6L717.4 88.9L717.9 92.4L718.4 96.0L718.9 99.7L719.4 103.6L719.9 107.6L720.4 111.7L720.9 116.0L721.4 120.3L721.9 124.7L722.4 129.3L722.9 133.8L723.4 138.5L723.9 143.2L724.4 147.9L724.9 152.7L725.4 157.5L725.9 162.3L726.4 167.1L726.9 171.9L727.4 176.6L727.9 181.4L728.4 186.1L728.9 190.7L729.4 195.3L729.9 199.8L730.4 204.2L730.9 208.6L731.4 212.8L731.9 216.9L732.4 220.9L732.9 224.8L733.4 228.6L733.9 232.2L734.4 235.6L734.9 238.9L735.4 242.1L735.9 245.0L736.4 247.8L736.9 250.4L737.4 252.8L737.9 255.0L738.4 257.0L738.9 258.8L739.4 260.4L739.9 261.8L740.4 262.9L740.9 263.9L741.4 264.6L741.9 265.1L742.4 265.4L742.9 265.4L743.4 265.3L743.9 264.9L744.4 264.2L744.9 263.4L745.4 262.4L745.9 261.1L746.4 259.6L746.9 257.9L747.4 256.0L747.9 253.9L748.4 251.6L748.5 251.1" stroke="#0072bd" stroke-width="2.6" stroke-dasharray="8.6 8"/><path d="M523.0 128.0L524.0 130.1L525.0 132.4L526.0 134.9L527.0 137.6L528.0 140.5L529.0 143.8L530.0 147.3L531.0 150.8L532.0 154.1L533.0 157.0L534.0 159.7L535.0 162.3L536.0 164.9L537.0 167.6L538.0 170.3L539.0 173.0L540.0 175.7L541.0 178.1L542.0 180.4L543.0 182.7L544.0 184.8L545.0 186.6L546.0 188.1L547.0 189.4L548.0 190.5L549.0 191.6L550.0 192.5L551.0 193.5L552.0 194.4L553.0 194.3L554.0 193.0L555.0 190.8L556.0 188.4L557.0 186.0L558.0 183.1L559.0 180.0L560.0 176.7L561.0 173.5L562.0 170.3L563.0 167.0L564.0 163.7L565.0 160.3L566.0 157.0L567.0 153.5L568.0 150.1L569.0 146.7L570.0 143.6L571.0 140.5L572.0 137.4L573.0 134.4L574.0 131.7L575.0 129.2L576.0 127.2L577.0 125.4L578.0 123.8L579.0 122.4L580.0 121.4L581.0 121.0L582.0 120.8L583.0 120.6L584.0 120.4L585.0 120.4L586.0 120.8L587.0 121.8L588.0 123.2L589.0 124.8L590.0 126.4L591.0 128.4L592.0 130.9L593.0 133.5L594.0 136.1L595.0 138.5L596.0 141.0L597.0 143.5L598.0 146.0L599.0 148.7L600.0 151.4L601.0 154.3L602.0 157.3L603.0 160.4L604.0 163.5L605.0 166.5L606.0 169.6L607.0 172.8L608.0 175.7L609.0 178.4L610.0 180.7L611.0 183.0L612.0 185.0L613.0 186.8L614.0 188.3L615.0 189.8L616.0 191.1L617.0 191.8L618.0 191.8L619.0 191.5L620.0 190.8L621.0 190.0L622.0 189.1L623.0 187.7L624.0 185.5L625.0 183.0L626.0 180.3L627.0 177.6L628.0 175.1L629.0 172.4L630.0 169.7L631.0 166.9L632.0 164.1L633.0 161.3L634.0 158.6L635.0 155.8L636.0 153.0L637.0 150.3L638.0 147.5L639.0 144.7L640.0 141.9L641.0 139.1L642.0 136.2L643.0 133.4L644.0 130.7L645.0 128.1L646.0 125.7L647.0 123.0L648.0 120.5L649.0 118.7L650.0 118.1L651.0 118.3L652.0 118.7L653.0 119.3L654.0 120.1L655.0 121.1L656.0 122.9L657.0 125.2L658.0 127.7L659.0 130.2L660.0 132.5L661.0 135.0L662.0 137.5L663.0 140.1L664.0 142.7L665.0 145.4L666.0 148.2L667.0 151.0L668.0 153.9L669.0 156.8L670.0 159.9L671.0 163.2L672.0 166.7L673.0 170.4L674.0 174.3L675.0 178.1L676.0 181.6L677.0 185.1L678.0 188.0L679.0 190.4L680.0 192.6L681.0 194.6L682.0 196.0L683.0 196.4L684.0 196.3L685.0 196.1L686.0 195.7L687.0 195.3L688.0 194.7L689.0 194.1L690.0 193.3L691.0 192.1L692.0 190.5L693.0 188.7L694.0 186.9L695.0 184.9L696.0 182.7L697.0 180.3L698.0 177.7L699.0 174.9L700.0 171.8L701.0 168.4L702.0 164.9L703.0 161.4L704.0 158.0L705.0 154.6L706.0 151.2L707.0 147.9L708.0 144.8L709.0 141.8L710.0 138.8L711.0 136.0L712.0 133.5L713.0 131.4L714.0 129.5L715.0 127.8L716.0 126.5L717.0 126.1L718.0 126.3L719.0 126.7L720.0 127.2L721.0 128.0L722.0 128.8L723.0 129.9L724.0 131.8L725.0 134.2L726.0 136.8L727.0 139.3L728.0 141.4L729.0 143.6L730.0 145.7L731.0 147.8L732.0 150.1L733.0 152.4L734.0 155.0L735.0 157.9L736.0 160.9L737.0 164.1L738.0 167.3L739.0 170.5L740.0 173.8L741.0 177.1L742.0 180.6L743.0 184.1L744.0 187.7L745.0 191.4L746.0 195.2L747.0 198.7L748.0 202.1L749.0 205.1L749.5 206.5" stroke="#0000ff" stroke-width="2.2"/><path d="M523.4 133.3L523.9 138.2L524.4 143.1L524.9 148.1L525.4 153.1L525.9 158.2L526.4 163.2L526.9 168.3L527.4 173.3L527.9 178.3L528.4 183.2L528.9 188.1L529.4 193.0L529.9 197.8L530.4 202.5L530.9 207.1L531.4 211.6L531.9 216.1L532.4 220.4L532.9 224.5L533.4 228.6L533.9 232.4L534.4 236.2L534.9 239.7L535.4 243.1L535.9 246.4L536.4 249.4L536.9 252.3L537.4 254.9L537.9 257.4L538.4 259.6L538.9 261.6L539.4 263.5L539.9 265.1L540.4 266.4L540.9 267.6L541.4 268.5L541.9 269.2L542.4 269.6L542.9 269.8L543.4 269.8L543.9 269.6L544.4 269.1L544.9 268.4L545.4 267.4L545.9 266.2L546.4 264.8L546.9 263.2L547.4 261.3L547.9 259.3L548.4 257.0L548.9 254.5L549.4 251.8L549.9 248.9L550.4 245.9L550.9 242.6L551.4 239.2L551.9 235.6L552.4 231.8L552.9 227.9L553.4 223.9L553.9 219.7L554.4 215.4L554.9 210.9L555.4 206.4L555.9 201.8L556.4 197.0L556.9 192.2L557.4 187.4L557.9 182.4L558.4 177.5L558.9 172.5L559.4 167.4L559.9 162.4L560.4 157.4L560.9 152.3L561.4 147.3L561.9 142.3L562.4 137.4L562.9 132.5L563.4 127.7L563.9 123.0L564.4 118.3L564.9 113.7L565.4 109.2L565.9 104.9L566.4 100.7L566.9 96.6L567.4 92.6L567.9 88.8L568.4 85.1L568.9 81.6L569.4 78.3L569.9 75.2L570.4 72.2L570.9 69.5L571.4 66.9L571.9 64.6L572.4 62.4L572.9 60.5L573.4 58.8L573.9 57.3L574.4 56.1L574.9 55.0L575.4 54.2L575.9 53.7L576.4 53.3L576.9 53.2L577.4 53.4L577.9 53.8L578.4 54.4L578.9 55.2L579.4 56.3L579.9 57.6L580.4 59.1L580.9 60.8L581.4 62.8L581.9 64.9L582.4 67.3L582.9 69.9L583.4 72.7L583.9 75.7L584.4 78.8L584.9 82.2L585.4 85.7L585.9 89.4L586.4 93.2L586.9 97.2L587.4 101.3L587.9 105.6L588.4 110.0L588.9 114.4L589.4 119.0L589.9 123.7L590.4 128.5L590.9 133.3L591.4 138.2L591.9 143.1L592.4 148.1L592.9 153.1L593.4 158.2L593.9 163.2L594.4 168.3L594.9 173.3L595.4 178.3L595.9 183.2L596.4 188.1L596.9 193.0L597.4 197.8L597.9 202.5L598.4 207.1L598.9 211.6L599.4 216.1L599.9 220.4L600.4 224.5L600.9 228.6L601.4 232.4L601.9 236.2L602.4 239.7L602.9 243.1L603.4 246.4L603.9 249.4L604.4 252.3L604.9 254.9L605.4 257.4L605.9 259.6L606.4 261.6L606.9 263.5L607.4 265.1L607.9 266.4L608.4 267.6L608.9 268.5L609.4 269.2L609.9 269.6L610.4 269.8L610.9 269.8L611.4 269.6L611.9 269.1L612.4 268.4L612.9 267.4L613.4 266.2L613.9 264.8L614.4 263.2L614.9 261.3L615.4 259.3L615.9 257.0L616.4 254.5L616.9 251.8L617.4 248.9L617.9 245.9L618.4 242.6L618.9 239.2L619.4 235.6L619.9 231.8L620.4 227.9L620.9 223.9L621.4 219.7L621.9 215.4L622.4 210.9L622.9 206.4L623.4 201.8L623.9 197.0L624.4 192.2L624.9 187.4L625.4 182.4L625.9 177.5L626.4 172.5L626.9 167.4L627.4 162.4L627.9 157.4L628.4 152.3L628.9 147.3L629.4 142.3L629.9 137.4L630.4 132.5L630.9 127.7L631.4 123.0L631.9 118.3L632.4 113.7L632.9 109.2L633.4 104.9L633.9 100.7L634.4 96.6L634.9 92.6L635.4 88.8L635.9 85.1L636.4 81.6L636.9 78.3L637.4 75.2L637.9 72.2L638.4 69.5L638.9 66.9L639.4 64.6L639.9 62.4L640.4 60.5L640.9 58.8L641.4 57.3L641.9 56.1L642.4 55.0L642.9 54.2L643.4 53.7L643.9 53.3L644.4 53.2L644.9 53.4L645.4 53.8L645.9 54.4L646.4 55.2L646.9 56.3L647.4 57.6L647.9 59.1L648.4 60.8L648.9 62.8L649.4 64.9L649.9 67.3L650.4 69.9L650.9 72.7L651.4 75.7L651.9 78.8L652.4 82.2L652.9 85.7L653.4 89.4L653.9 93.2L654.4 97.2L654.9 101.3L655.4 105.6L655.9 110.0L656.4 114.4L656.9 119.0L657.4 123.7L657.9 128.5L658.4 133.3L658.9 138.2L659.4 143.1L659.9 148.1L660.4 153.1L660.9 158.2L661.4 163.2L661.9 168.3L662.4 173.3L662.9 178.3L663.4 183.2L663.9 188.1L664.4 193.0L664.9 197.8L665.4 202.5L665.9 207.1L666.4 211.6L666.9 216.1L667.4 220.4L667.9 224.5L668.4 228.6L668.9 232.4L669.4 236.2L669.9 239.7L670.4 243.1L670.9 246.4L671.4 249.4L671.9 252.3L672.4 254.9L672.9 257.4L673.4 259.6L673.9 261.6L674.4 263.5L674.9 265.1L675.4 266.4L675.9 267.6L676.4 268.5L676.9 269.2L677.4 269.6L677.9 269.8L678.4 269.8L678.9 269.6L679.4 269.1L679.9 268.4L680.4 267.4L680.9 266.2L681.4 264.8L681.9 263.2L682.4 261.3L682.9 259.3L683.4 257.0L683.9 254.5L684.4 251.8L684.9 248.9L685.4 245.9L685.9 242.6L686.4 239.2L686.9 235.6L687.4 231.8L687.9 227.9L688.4 223.9L688.9 219.7L689.4 215.4L689.9 210.9L690.4 206.4L690.9 201.8L691.4 197.0L691.9 192.2L692.4 187.4L692.9 182.4L693.4 177.5L693.9 172.5L694.4 167.4L694.9 162.4L695.4 157.4L695.9 152.3L696.4 147.3L696.9 142.3L697.4 137.4L697.9 132.5L698.4 127.7L698.9 123.0L699.4 118.3L699.9 113.7L700.4 109.2L700.9 104.9L701.4 100.7L701.9 96.6L702.4 92.6L702.9 88.8L703.4 85.1L703.9 81.6L704.4 78.3L704.9 75.2L705.4 72.2L705.9 69.5L706.4 66.9L706.9 64.6L707.4 62.4L707.9 60.5L708.4 58.8L708.9 57.3L709.4 56.1L709.9 55.0L710.4 54.2L710.9 53.7L711.4 53.3L711.9 53.2L712.4 53.4L712.9 53.8L713.4 54.4L713.9 55.2L714.4 56.3L714.9 57.6L715.4 59.1L715.9 60.8L716.4 62.8L716.9 64.9L717.4 67.3L717.9 69.9L718.4 72.7L718.9 75.7L719.4 78.8L719.9 82.2L720.4 85.7L720.9 89.4L721.4 93.2L721.9 97.2L722.4 101.3L722.9 105.6L723.4 110.0L723.9 114.4L724.4 119.0L724.9 123.7L725.4 128.5L725.9 133.3L726.4 138.2L726.9 143.1L727.4 148.1L727.9 153.1L728.4 158.2L728.9 163.2L729.4 168.3L729.9 173.3L730.4 178.3L730.9 183.2L731.4 188.1L731.9 193.0L732.4 197.8L732.9 202.5L733.4 207.1L733.9 211.6L734.4 216.1L734.9 220.4L735.4 224.5L735.9 228.6L736.4 232.4L736.9 236.2L737.4 239.7L737.9 243.1L738.4 246.4L738.9 249.4L739.4 252.3L739.9 254.9L740.4 257.4L740.9 259.6L741.4 261.6L741.9 263.5L742.4 265.1L742.9 266.4L743.4 267.6L743.9 268.5L744.4 269.2L744.9 269.6L745.4 269.8L745.9 269.8L746.4 269.6L746.9 269.1L747.4 268.4L747.9 267.4L748.4 266.2L748.5 266.0" stroke="#ff0000" stroke-width="2.2"/></g><g clip-path="url(#cb)" fill="none" stroke-linejoin="round" stroke-width="2.6"><path d="M256.6 424.5L257.6 421.8L258.6 419.3L259.6 417.2L260.6 415.6L261.6 414.5L262.6 414.0L263.6 414.0L264.6 414.5L265.6 415.4L266.6 416.7L267.6 418.4L268.6 420.4L269.6 422.6L270.6 425.0L271.6 427.5L272.6 430.0L273.6 432.4L274.6 434.8L275.6 436.8L276.6 438.6L277.6 440.1L278.6 441.2L279.6 441.9L280.6 442.1L281.6 441.8L282.6 441.0L283.6 439.7L284.6 437.9L285.6 435.7L286.6 433.2L287.6 430.5L288.6 427.6L289.6 424.7L290.6 421.8L291.6 419.1L292.6 416.7L293.6 414.6L294.6 413.0L295.6 411.8L296.6 411.2L297.6 411.0L298.6 411.4L299.6 412.2L300.6 413.5L301.6 415.1L302.6 417.1L303.6 419.4L304.6 421.8L305.6 424.4L306.6 427.1L307.6 429.7L308.6 432.1L309.6 434.4L310.6 436.4L311.6 438.0L312.6 439.3L313.6 440.1L314.6 440.5L315.6 440.3L316.6 439.6L317.6 438.4L318.6 436.6L319.6 434.4L320.6 431.9L321.6 429.1L322.6 426.3L323.6 423.4L324.6 420.7L325.6 418.2L326.6 416.1L327.6 414.4L328.6 413.3L329.6 412.7L330.6 412.6L331.6 413.0L332.6 413.8L333.6 415.0L334.6 416.4L335.6 418.2L336.6 420.2L337.6 422.4L338.6 424.7L339.6 427.1L340.6 429.5L341.6 431.9L342.6 434.1L343.6 436.1L344.6 437.9L345.6 439.5L346.6 440.7L347.6 441.5L348.6 442.0L349.6 442.0L350.6 441.5L351.6 440.3L352.6 438.5L353.6 436.2L354.6 433.4L355.6 430.3L356.6 427.1L357.6 423.9L358.6 420.8L359.6 418.0L360.6 415.5L361.6 413.6L362.6 412.3L363.6 411.6L364.6 411.6L365.6 412.1L366.6 413.1L367.6 414.6L368.6 416.4L369.6 418.7L370.6 421.2L371.6 423.9L372.6 426.7L373.6 429.5L374.6 432.2L375.6 434.7L376.6 436.9L377.6 438.9L378.6 440.4L379.6 441.4L380.6 442.0L381.6 442.0L382.6 441.5L383.6 440.5L384.6 439.0L385.6 437.0L386.6 434.6L387.6 432.0L388.6 429.1L389.6 426.2L390.6 423.2L391.6 420.3L392.6 417.7L393.6 415.3L394.6 413.3L395.6 411.8L396.6 410.8L397.6 410.3L398.6 410.3L399.6 410.8L400.6 411.7L401.6 413.0L402.6 414.6L403.6 416.6L404.6 418.8L405.6 421.2L406.6 423.6L407.6 426.1L408.6 428.5L409.6 430.7L410.6 432.8L411.6 434.5L412.6 436.0L413.6 437.0L414.6 437.6L415.6 437.8L416.6 437.5L417.6 436.6L418.6 435.3L419.6 433.5L420.6 431.4L421.6 429.0L422.6 426.4L423.6 423.7L424.6 421.1L425.6 418.6L426.6 416.3L427.6 414.3L428.6 412.8L429.6 411.7L430.6 411.1L431.6 411.0L432.6 411.5L433.6 412.4L434.6 413.7L435.6 415.3L436.6 417.3L437.6 419.6L438.6 422.0L439.6 424.6L440.6 427.1L441.6 429.5L442.6 431.8L443.6 433.8L444.6 435.4L445.6 436.7L446.6 437.6L447.6 438.1L448.6 438.0L449.6 437.5L450.6 436.6L451.6 435.2L452.6 433.5L453.6 431.5L454.6 429.3L455.6 426.9L456.6 424.5L457.6 422.1L458.6 419.8L459.6 417.7L460.6 415.8L461.6 414.3L462.6 413.2L463.6 412.5L464.6 412.3L465.6 412.6L466.6 413.5L467.6 414.9L468.6 416.8L469.6 419.2L470.6 421.8L471.6 424.7L472.6 427.6L473.6 430.6L474.6 433.4L475.6 436.0L476.6 438.2L477.6 440.0L478.6 441.2L479.6 441.9L480.6 442.1L481.6 441.7L482.6 441.0L483.6 439.8L484.6 438.3L485.6 436.4L486.6 434.4L487.6 432.1L488.6 429.7L489.6 427.3L490.6 425.0L491.6 422.8L492.6 420.8L493.6 419.0L494.6 417.6L495.6 416.6L496.6 415.9L497.6 415.7L498.6 415.9L499.6 416.5L500.6 417.5L501.6 418.9L502.6 420.6L503.6 422.6L504.6 424.7L505.6 427.1L506.6 429.4L507.6 431.8L508.6 434.2L509.6 436.3L510.6 438.3L511.6 440.0L512.6 441.4L513.6 442.4L514.6 443.0L515.6 443.2L516.6 442.9L517.6 442.0L518.6 440.6L519.6 438.7L520.6 436.3L521.6 433.7L522.6 430.9L523.6 428.0L524.6 425.1L525.6 422.5L526.6 420.1L527.6 418.1L528.6 416.5L529.6 415.5L530.6 415.1L531.6 415.3L532.6 415.9L533.6 416.9L534.6 418.3L535.6 420.1L536.6 422.2L537.6 424.5L538.6 427.0L539.6 429.5L540.6 432.0L541.6 434.4L542.6 436.6L543.6 438.5L544.6 440.1L545.6 441.4L546.6 442.2L547.6 442.6L548.6 442.5L549.6 441.8L550.6 440.7L551.6 439.2L552.6 437.2L553.6 434.9L554.6 432.3L555.6 429.6L556.6 426.8L557.6 424.1L558.6 421.5L559.6 419.1L560.6 417.0L561.6 415.3L562.6 414.0L563.6 413.3L564.6 413.0L565.6 413.3L566.6 414.0L567.6 415.2L568.6 416.8L569.6 418.8L570.6 421.0L571.6 423.5L572.6 426.1L573.6 428.7L574.6 431.3L575.6 433.7L576.6 435.9L577.6 437.7L578.6 439.2L579.6 440.2L580.6 440.7L581.6 440.7L582.6 440.3L583.6 439.3L584.6 437.9L585.6 436.0L586.6 433.9L587.6 431.4L588.6 428.8L589.6 426.0L590.6 423.3L591.6 420.6L592.6 418.2L593.6 416.0L594.6 414.2L595.6 412.9L596.6 412.0L597.6 411.5L598.6 411.6L599.6 412.2L600.6 413.2L601.6 414.7L602.6 416.5L603.6 418.6L604.6 421.0L605.6 423.6L606.6 426.2L607.6 428.9L608.6 431.5L609.6 433.9L610.6 436.1L611.6 438.0L612.6 439.5L613.6 440.6L614.6 441.3L615.6 441.5L616.6 441.2L616.8 441.0" stroke="#0000ff"/><path d="M256.6 492.1L257.6 490.4L258.6 488.7L259.6 487.1L260.6 485.6L261.6 484.2L262.6 482.9L263.6 481.8L264.6 480.8L265.6 480.1L266.6 479.5L267.6 479.2L268.6 479.1L269.6 479.2L270.6 479.5L271.6 480.0L272.6 480.7L273.6 481.6L274.6 482.6L275.6 483.8L276.6 485.1L277.6 486.5L278.6 488.0L279.6 489.6L280.6 491.2L281.6 492.8L282.6 494.4L283.6 496.0L284.6 497.5L285.6 498.9L286.6 500.2L287.6 501.3L288.6 502.3L289.6 503.1L290.6 503.8L291.6 504.3L292.6 504.5L293.6 504.6L294.6 504.4L295.6 504.1L296.6 503.5L297.6 502.7L298.6 501.7L299.6 500.5L300.6 499.2L301.6 497.7L302.6 496.2L303.6 494.5L304.6 492.8L305.6 491.1L306.6 489.3L307.6 487.6L308.6 485.9L309.6 484.4L310.6 482.9L311.6 481.6L312.6 480.4L313.6 479.4L314.6 478.6L315.6 478.0L316.6 477.7L317.6 477.5L318.6 477.6L319.6 477.9L320.6 478.3L321.6 479.0L322.6 479.9L323.6 480.9L324.6 482.2L325.6 483.5L326.6 485.0L327.6 486.6L328.6 488.3L329.6 490.0L330.6 491.7L331.6 493.5L332.6 495.2L333.6 496.9L334.6 498.5L335.6 500.0L336.6 501.4L337.6 502.7L338.6 503.8L339.6 504.7L340.6 505.5L341.6 506.0L342.6 506.4L343.6 506.5L344.6 506.4L345.6 506.0L346.6 505.4L347.6 504.5L348.6 503.4L349.6 502.1L350.6 500.6L351.6 498.9L352.6 497.1L353.6 495.2L354.6 493.2L355.6 491.2L356.6 489.1L357.6 487.1L358.6 485.2L359.6 483.4L360.6 481.6L361.6 480.1L362.6 478.7L363.6 477.6L364.6 476.7L365.6 476.0L366.6 475.6L367.6 475.4L368.6 475.5L369.6 475.9L370.6 476.5L371.6 477.4L372.6 478.4L373.6 479.7L374.6 481.2L375.6 482.9L376.6 484.6L377.6 486.5L378.6 488.5L379.6 490.5L380.6 492.4L381.6 494.4L382.6 496.3L383.6 498.1L384.6 499.7L385.6 501.2L386.6 502.5L387.6 503.6L388.6 504.5L389.6 505.2L390.6 505.6L391.6 505.7L392.6 505.6L393.6 505.4L394.6 505.0L395.6 504.4L396.6 503.8L397.6 503.0L398.6 502.0L399.6 501.0L400.6 499.8L401.6 498.6L402.6 497.3L403.6 495.9L404.6 494.5L405.6 493.1L406.6 491.7L407.6 490.3L408.6 489.0L409.6 487.7L410.6 486.5L411.6 485.3L412.6 484.3L413.6 483.4L414.6 482.6L415.6 481.9L416.6 481.4L417.6 481.0L418.6 480.8L419.6 480.7L420.6 480.8L421.6 481.2L422.6 481.8L423.6 482.6L424.6 483.6L425.6 484.7L426.6 486.0L427.6 487.5L428.6 489.1L429.6 490.7L430.6 492.4L431.6 494.2L432.6 495.9L433.6 497.6L434.6 499.2L435.6 500.8L436.6 502.2L437.6 503.5L438.6 504.7L439.6 505.6L440.6 506.3L441.6 506.9L442.6 507.2L443.6 507.3L444.6 507.1L445.6 506.7L446.6 506.0L447.6 505.1L448.6 503.9L449.6 502.5L450.6 500.9L451.6 499.1L452.6 497.3L453.6 495.3L454.6 493.2L455.6 491.1L456.6 489.1L457.6 487.0L458.6 485.1L459.6 483.2L460.6 481.5L461.6 479.9L462.6 478.6L463.6 477.4L464.6 476.5L465.6 475.9L466.6 475.5L467.6 475.4L468.6 475.5L469.6 475.9L470.6 476.4L471.6 477.1L472.6 478.0L473.6 479.1L474.6 480.3L475.6 481.7L476.6 483.2L477.6 484.8L478.6 486.5L479.6 488.2L480.6 490.0L481.6 491.8L482.6 493.6L483.6 495.3L484.6 497.0L485.6 498.6L486.6 500.1L487.6 501.5L488.6 502.8L489.6 503.9L490.6 504.8L491.6 505.6L492.6 506.2L493.6 506.5L494.6 506.7L495.6 506.6L496.6 506.3L497.6 505.8L498.6 505.0L499.6 503.9L500.6 502.7L501.6 501.3L502.6 499.7L503.6 498.0L504.6 496.2L505.6 494.4L506.6 492.5L507.6 490.6L508.6 488.8L509.6 487.0L510.6 485.3L511.6 483.8L512.6 482.5L513.6 481.3L514.6 480.4L515.6 479.7L516.6 479.2L517.6 479.0L518.6 479.1L519.6 479.3L520.6 479.7L521.6 480.3L522.6 481.2L523.6 482.1L524.6 483.3L525.6 484.5L526.6 485.9L527.6 487.4L528.6 489.0L529.6 490.6L530.6 492.3L531.6 493.9L532.6 495.6L533.6 497.2L534.6 498.8L535.6 500.3L536.6 501.7L537.6 502.9L538.6 504.1L539.6 505.0L540.6 505.9L541.6 506.5L542.6 506.9L543.6 507.1L544.6 507.2L545.6 507.0L546.6 506.6L547.6 505.9L548.6 505.0L549.6 503.9L550.6 502.6L551.6 501.2L552.6 499.6L553.6 497.9L554.6 496.1L555.6 494.3L556.6 492.5L557.6 490.6L558.6 488.9L559.6 487.2L560.6 485.6L561.6 484.1L562.6 482.8L563.6 481.7L564.6 480.8L565.6 480.1L566.6 479.6L567.6 479.4L568.6 479.4L569.6 479.7L570.6 480.1L571.6 480.8L572.6 481.6L573.6 482.7L574.6 483.9L575.6 485.2L576.6 486.7L577.6 488.2L578.6 489.9L579.6 491.6L580.6 493.3L581.6 495.0L582.6 496.7L583.6 498.3L584.6 499.9L585.6 501.3L586.6 502.6L587.6 503.8L588.6 504.7L589.6 505.5L590.6 506.1L591.6 506.5L592.6 506.7L593.6 506.6L594.6 506.4L595.6 505.9L596.6 505.2L597.6 504.3L598.6 503.2L599.6 502.0L600.6 500.6L601.6 499.1L602.6 497.5L603.6 495.7L604.6 494.0L605.6 492.2L606.6 490.4L607.6 488.6L608.6 486.9L609.6 485.2L610.6 483.7L611.6 482.3L612.6 481.0L613.6 479.9L614.6 479.0L615.6 478.2L616.6 477.7L616.8 477.6" stroke="#00ff00"/><path d="M256.6 557.5L257.6 555.1L258.6 553.0L259.6 551.1L260.6 549.5L261.6 547.9L262.6 546.4L263.6 545.3L264.6 544.7L265.6 544.4L266.6 544.1L267.6 543.9L268.6 543.7L269.6 543.6L270.6 543.6L271.6 543.7L272.6 543.8L273.6 544.0L274.6 544.2L275.6 544.4L276.6 544.7L277.6 544.9L278.6 545.1L279.6 545.3L280.6 545.5L281.6 545.6L282.6 545.8L283.6 546.0L284.6 546.2L285.6 546.5L286.6 547.0L287.6 547.6L288.6 548.2L289.6 548.8L290.6 549.4L291.6 550.1L292.6 550.8L293.6 551.5L294.6 552.2L295.6 552.9L296.6 553.7L297.6 554.5L298.6 555.2L299.6 556.0L300.6 556.9L301.6 557.7L302.6 558.5L303.6 559.3L304.6 560.1L305.6 561.0L306.6 561.9L307.6 562.9L308.6 563.8L309.6 564.7L310.6 565.6L311.6 566.6L312.6 567.4L313.6 568.3L314.6 569.1L315.6 569.9L316.6 570.7L317.6 571.6L318.6 572.5L319.6 573.4L320.6 574.2L321.6 575.1L322.6 575.8L323.6 576.5L324.6 577.0L325.6 577.3L326.6 577.5L327.6 577.5L328.6 577.3L329.6 577.0L330.6 576.6L331.6 576.1L332.6 575.6L333.6 575.0L334.6 574.3L335.6 573.7L336.6 573.0L337.6 572.2L338.6 571.2L339.6 570.1L340.6 568.9L341.6 567.6L342.6 566.4L343.6 565.3L344.6 564.3L345.6 563.4L346.6 562.6L347.6 561.7L348.6 561.0L349.6 560.2L350.6 559.4L351.6 558.7L352.6 558.0L353.6 557.2L354.6 556.5L355.6 555.7L356.6 554.9L357.6 554.0L358.6 553.0L359.6 552.1L360.6 551.2L361.6 550.2L362.6 549.4L363.6 548.6L364.6 547.9L365.6 547.3L366.6 546.9L367.6 546.6L368.6 546.3L369.6 546.1L370.6 545.8L371.6 545.6L372.6 545.4L373.6 545.3L374.6 545.2L375.6 545.2L376.6 545.3L377.6 545.4L378.6 545.6L379.6 545.9L380.6 546.2L381.6 546.5L382.6 546.7L383.6 547.0L384.6 547.3L385.6 547.5L386.6 547.8L387.6 548.1L388.6 548.5L389.6 548.8L390.6 549.2L391.6 549.6L392.6 550.1L393.6 550.7L394.6 551.5L395.6 552.3L396.6 553.3L397.6 554.3L398.6 555.3L399.6 556.4L400.6 557.4L401.6 558.4L402.6 559.4L403.6 560.3L404.6 561.3L405.6 562.3L406.6 563.2L407.6 564.2L408.6 565.1L409.6 566.0L410.6 566.9L411.6 567.7L412.6 568.5L413.6 569.2L414.6 570.0L415.6 570.7L416.6 571.3L417.6 571.8L418.6 572.1L419.6 572.4L420.6 572.7L421.6 572.9L422.6 573.1L423.6 573.3L424.6 573.4L425.6 573.5L426.6 573.5L427.6 573.5L428.6 573.4L429.6 573.4L430.6 573.3L431.6 573.2L432.6 573.2L433.6 573.0L434.6 572.9L435.6 572.8L436.6 572.5L437.6 572.0L438.6 571.3L439.6 570.5L440.6 569.8L441.6 568.7L442.6 567.5L443.6 566.1L444.6 564.7L445.6 563.3L446.6 562.1L447.6 561.0L448.6 559.9L449.6 558.8L450.6 557.7L451.6 556.7L452.6 555.8L453.6 554.9L454.6 554.1L455.6 553.3L456.6 552.6L457.6 551.9L458.6 551.3L459.6 550.7L460.6 550.2L461.6 549.7L462.6 549.2L463.6 548.9L464.6 548.5L465.6 548.2L466.6 548.0L467.6 547.7L468.6 547.4L469.6 547.2L470.6 546.8L471.6 546.4L472.6 546.0L473.6 545.4L474.6 544.9L475.6 544.4L476.6 544.0L477.6 543.7L478.6 543.6L479.6 543.7L480.6 543.8L481.6 544.1L482.6 544.4L483.6 544.8L484.6 545.1L485.6 545.5L486.6 546.0L487.6 546.6L488.6 547.2L489.6 547.9L490.6 548.7L491.6 549.4L492.6 550.1L493.6 550.8L494.6 551.6L495.6 552.4L496.6 553.3L497.6 554.1L498.6 555.0L499.6 555.9L500.6 556.8L501.6 557.6L502.6 558.5L503.6 559.3L504.6 560.1L505.6 561.0L506.6 561.8L507.6 562.7L508.6 563.6L509.6 564.4L510.6 565.3L511.6 566.1L512.6 566.9L513.6 567.7L514.6 568.5L515.6 569.2L516.6 569.9L517.6 570.5L518.6 571.2L519.6 571.9L520.6 572.6L521.6 573.3L522.6 574.0L523.6 574.7L524.6 575.3L525.6 575.9L526.6 576.3L527.6 576.7L528.6 577.0L529.6 577.1L530.6 577.1L531.6 576.9L532.6 576.7L533.6 576.4L534.6 576.0L535.6 575.6L536.6 575.1L537.6 574.7L538.6 574.1L539.6 573.5L540.6 572.7L541.6 571.9L542.6 571.0L543.6 570.1L544.6 569.2L545.6 568.2L546.6 567.2L547.6 566.1L548.6 564.9L549.6 563.6L550.6 562.2L551.6 560.9L552.6 559.6L553.6 558.4L554.6 557.2L555.6 555.9L556.6 554.6L557.6 553.4L558.6 552.3L559.6 551.3L560.6 550.6L561.6 550.1L562.6 549.6L563.6 549.2L564.6 548.8L565.6 548.5L566.6 548.1L567.6 547.8L568.6 547.4L569.6 547.1L570.6 546.6L571.6 546.1L572.6 545.6L573.6 545.1L574.6 544.7L575.6 544.3L576.6 544.1L577.6 544.0L578.6 544.0L579.6 544.2L580.6 544.4L581.6 544.6L582.6 545.0L583.6 545.3L584.6 545.7L585.6 546.2L586.6 546.7L587.6 547.1L588.6 547.6L589.6 548.2L590.6 548.8L591.6 549.5L592.6 550.4L593.6 551.4L594.6 552.4L595.6 553.5L596.6 554.5L597.6 555.6L598.6 556.6L599.6 557.5L600.6 558.4L601.6 559.3L602.6 560.1L603.6 561.0L604.6 561.8L605.6 562.6L606.6 563.5L607.6 564.3L608.6 565.1L609.6 565.9L610.6 566.7L611.6 567.5L612.6 568.4L613.6 569.2L614.6 570.0L615.6 570.8L616.6 571.5L616.8 571.7" stroke="#ff0000"/></g><g font-family="Liberation Sans" font-size="17" fill="#303030"><text transform="matrix(1 0 0 1.04 20.80 323.60)" text-anchor="end">0</text><text transform="matrix(1 0 0 1.04 20.80 272.03)" text-anchor="end">5</text><text transform="matrix(1 0 0 1.04 20.80 220.45)" text-anchor="end">10</text><text transform="matrix(1 0 0 1.04 20.80 168.88)" text-anchor="end">15</text><text transform="matrix(1 0 0 1.04 20.80 117.30)" text-anchor="end">20</text><text transform="matrix(1 0 0 1.04 20.80 65.72)" text-anchor="end">25</text><text transform="matrix(1 0 0 1.04 27.50 341.40)" text-anchor="middle">0.2</text><text transform="matrix(1 0 0 1.04 108.50 341.40)" text-anchor="middle">0.22</text><text transform="matrix(1 0 0 1.04 189.50 341.40)" text-anchor="middle">0.24</text><text transform="matrix(1 0 0 1.04 273.90 323.60)" text-anchor="end">0</text><text transform="matrix(1 0 0 1.04 273.90 272.03)" text-anchor="end">5</text><text transform="matrix(1 0 0 1.04 273.90 220.45)" text-anchor="end">10</text><text transform="matrix(1 0 0 1.04 273.90 168.88)" text-anchor="end">15</text><text transform="matrix(1 0 0 1.04 273.90 117.30)" text-anchor="end">20</text><text transform="matrix(1 0 0 1.04 273.90 65.72)" text-anchor="end">25</text><text transform="matrix(1 0 0 1.04 280.60 341.40)" text-anchor="middle">0.2</text><text transform="matrix(1 0 0 1.04 361.80 341.40)" text-anchor="middle">0.22</text><text transform="matrix(1 0 0 1.04 443.00 341.40)" text-anchor="middle">0.24</text><text transform="matrix(1 0 0 1.04 516.70 323.60)" text-anchor="end">0</text><text transform="matrix(1 0 0 1.04 516.70 272.03)" text-anchor="end">5</text><text transform="matrix(1 0 0 1.04 516.70 220.45)" text-anchor="end">10</text><text transform="matrix(1 0 0 1.04 516.70 168.88)" text-anchor="end">15</text><text transform="matrix(1 0 0 1.04 516.70 117.30)" text-anchor="end">20</text><text transform="matrix(1 0 0 1.04 516.70 65.72)" text-anchor="end">25</text><text transform="matrix(1 0 0 1.04 523.40 341.40)" text-anchor="middle">0.2</text><text transform="matrix(1 0 0 1.04 604.40 341.40)" text-anchor="middle">0.22</text><text transform="matrix(1 0 0 1.04 685.40 341.40)" text-anchor="middle">0.24</text><text transform="matrix(1 0 0 1.04 250.00 686.90)" text-anchor="end">0</text><text transform="matrix(1 0 0 1.04 250.00 642.74)" text-anchor="end">200</text><text transform="matrix(1 0 0 1.04 250.00 598.58)" text-anchor="end">400</text><text transform="matrix(1 0 0 1.04 250.00 554.42)" text-anchor="end">600</text><text transform="matrix(1 0 0 1.04 250.00 510.26)" text-anchor="end">800</text><text transform="matrix(1 0 0 1.04 250.00 466.10)" text-anchor="end">1000</text><text transform="matrix(1 0 0 1.04 250.00 421.94)" text-anchor="end">1200</text><text transform="matrix(1 0 0 1.04 256.60 704.70)" text-anchor="middle">0.2</text><text transform="matrix(1 0 0 1.04 336.70 704.70)" text-anchor="middle">0.22</text><text transform="matrix(1 0 0 1.04 416.80 704.70)" text-anchor="middle">0.24</text><text transform="matrix(1 0 0 1.04 496.90 704.70)" text-anchor="middle">0.26</text><text transform="matrix(1 0 0 1.04 577.00 704.70)" text-anchor="middle">0.28</text></g><path d="M57.1 25.1h24.8" stroke="#00a0e6" stroke-width="3" stroke-linecap="round"/><g transform="translate(0,0)"><text transform="matrix(0.9657 0 0 1.0343 87.02 31.68)" font-family="Liberation Serif" font-size="22" fill="#74c3e7">:</text><text transform="matrix(1.0357 0 0 1.0357 102.90 31.60)" font-family="Liberation Serif" font-size="21" font-style="italic" fill="#74c3e7">i</text><text transform="matrix(0.9432 0 0 0.9037 108.46 37.28)" font-family="Liberation Serif" font-size="11" font-style="italic" fill="#74c3e7">q</text><text transform="matrix(1.0639 0 0 1.1327 115.41 37.58)" font-family="Liberation Serif" font-size="11" font-style="italic" fill="#74c3e7">,</text><text transform="matrix(1.3496 0 0 1.1203 118.10 37.38)" font-family="Liberation Serif" font-size="11" font-style="italic" fill="#74c3e7">ref</text><path d="M148.20 12.60Q136.80 25.10 148.20 37.60Q139.80 25.10 148.20 12.60Z" fill="#74c3e7"/><text transform="matrix(1.0414 0 0 0.9851 151.67 28.34)" font-family="Liberation Serif" font-size="18.5" fill="#74c3e7">@</text><text transform="matrix(1.0245 0 0 1.0245 173.01 31.80)" font-family="Liberation Serif" font-size="22" fill="#74c3e7">20Hz</text><path d="M225.20 12.30Q237.20 24.95 225.20 37.60Q234.20 24.95 225.20 12.30Z" fill="#74c3e7"/></g><path d="M305.7 24.1h24.8" stroke="#00a0e6" stroke-width="3" stroke-linecap="round"/><g transform="translate(248.6,-1.5)"><text transform="matrix(0.9657 0 0 1.0343 87.02 31.68)" font-family="Liberation Serif" font-size="22" fill="#74c3e7">:</text><text transform="matrix(1.0357 0 0 1.0357 102.90 31.60)" font-family="Liberation Serif" font-size="21" font-style="italic" fill="#74c3e7">i</text><text transform="matrix(0.9432 0 0 0.9037 108.46 37.28)" font-family="Liberation Serif" font-size="11" font-style="italic" fill="#74c3e7">q</text><text transform="matrix(1.0639 0 0 1.1327 115.41 37.58)" font-family="Liberation Serif" font-size="11" font-style="italic" fill="#74c3e7">,</text><text transform="matrix(1.3496 0 0 1.1203 118.10 37.38)" font-family="Liberation Serif" font-size="11" font-style="italic" fill="#74c3e7">ref</text><path d="M148.20 12.60Q136.80 25.10 148.20 37.60Q139.80 25.10 148.20 12.60Z" fill="#74c3e7"/><text transform="matrix(1.0414 0 0 0.9851 151.67 28.34)" font-family="Liberation Serif" font-size="18.5" fill="#74c3e7">@</text><text transform="matrix(1.0127 0 0 1.0127 173.56 31.80)" font-family="Liberation Serif" font-size="22" fill="#74c3e7">40Hz</text><path d="M225.20 12.30Q237.20 24.95 225.20 37.60Q234.20 24.95 225.20 12.30Z" fill="#74c3e7"/></g><path d="M554.7 25.9h24.8" stroke="#00a0e6" stroke-width="3" stroke-linecap="round"/><g transform="translate(497.6,0.7)"><text transform="matrix(0.9657 0 0 1.0343 87.02 31.68)" font-family="Liberation Serif" font-size="22" fill="#74c3e7">:</text><text transform="matrix(1.0357 0 0 1.0357 102.90 31.60)" font-family="Liberation Serif" font-size="21" font-style="italic" fill="#74c3e7">i</text><text transform="matrix(0.9432 0 0 0.9037 108.46 37.28)" font-family="Liberation Serif" font-size="11" font-style="italic" fill="#74c3e7">q</text><text transform="matrix(1.0639 0 0 1.1327 115.41 37.58)" font-family="Liberation Serif" font-size="11" font-style="italic" fill="#74c3e7">,</text><text transform="matrix(1.3496 0 0 1.1203 118.10 37.38)" font-family="Liberation Serif" font-size="11" font-style="italic" fill="#74c3e7">ref</text><path d="M148.20 12.60Q136.80 25.10 148.20 37.60Q139.80 25.10 148.20 12.60Z" fill="#74c3e7"/><text transform="matrix(1.0414 0 0 0.9851 151.67 28.34)" font-family="Liberation Serif" font-size="18.5" fill="#74c3e7">@</text><text transform="matrix(1.0240 0 0 1.0240 173.03 31.80)" font-family="Liberation Serif" font-size="22" fill="#74c3e7">60Hz</text><path d="M225.20 12.30Q237.20 24.95 225.20 37.60Q234.20 24.95 225.20 12.30Z" fill="#74c3e7"/></g><path d="M240 293.3H267.7" stroke="#ff0000" stroke-width="3"/><path d="M418 295H445.5" stroke="#0000ff" stroke-width="3"/><text transform="matrix(1.0816 0 0 0.9591 268.62 299.20)" font-family="Liberation Serif" font-size="22" fill="#ff0000">:</text><text transform="matrix(0.9543 0 0 0.9543 285.17 299.50)" font-family="Liberation Serif" font-size="22" font-style="italic" fill="#ff0000">i</text><text transform="matrix(0.9711 0 0 0.9711 290.63 305.51)" font-family="Liberation Serif" font-size="14" font-style="italic" fill="#ff0000">q</text><path d="M308.40 281.40Q297.00 293.55 308.40 305.70Q301.00 293.55 308.40 281.40Z" fill="#ff0000"/><text transform="matrix(1.0224 0 0 1.0224 311.15 299.50)" font-family="Liberation Serif" font-size="22" fill="#ff0000">Proposed</text><path d="M397.50 281.20Q408.50 293.60 397.50 306.00Q404.50 293.60 397.50 281.20Z" fill="#ff0000"/><text transform="matrix(1.1202 0 0 0.7428 449.25 300.37)" font-family="Liberation Serif" font-size="22" fill="#0000ff">:</text><text transform="matrix(0.9611 0 0 0.9611 465.84 300.10)" font-family="Liberation Serif" font-size="22" font-style="italic" fill="#0000ff">i</text><text transform="matrix(0.9711 0 0 0.9711 471.33 305.51)" font-family="Liberation Serif" font-size="14" font-style="italic" fill="#0000ff">q</text><path d="M489.10 283.10Q478.90 294.70 489.10 306.30Q482.90 294.70 489.10 283.10Z" fill="#0000ff"/><text transform="matrix(1.0498 0 0 1.0498 491.83 300.10)" font-family="Liberation Serif" font-size="22" fill="#0000ff">FL</text><path d="M520.30 282.00Q531.50 294.15 520.30 306.30Q527.50 294.15 520.30 282.00Z" fill="#0000ff"/><g transform="translate(0,0)"><path d="M259.5 609.6H286.8" stroke="#0000ff" stroke-width="3"/><text transform="matrix(1.0429 0 0 1.0061 290.69 615.99)" font-family="Liberation Serif" font-size="22" fill="#0000ff">:</text><text transform="matrix(0.9631 0 0 1.0533 304.49 615.94)" font-family="Liberation Serif" font-size="25" font-style="italic" font-weight="bold" fill="#0000ff">ω</text><path d="M305.4 597C309 594.6 312 592.6 314.4 592.6C316.8 592.6 320 594.6 323.2 597" stroke="#0000ff" stroke-width="1.2" fill="none"/><text transform="matrix(0.9178 0 0 0.9683 314.23 622.17)" font-family="Liberation Serif" font-size="13.5" font-style="italic" letter-spacing="-1.2" fill="#0000ff">αc</text><path d="M332.20 594.70Q323.80 609.65 332.20 624.60Q326.20 609.65 332.20 594.70Z" fill="#0000ff"/><text transform="matrix(0.9883 0 0 0.9788 334.93 613.36)" font-family="Liberation Serif" font-size="18.5" fill="#0000ff">@</text><text transform="matrix(1.0421 0 0 1.0421 351.34 615.80)" font-family="Liberation Serif" font-size="20" font-style="italic" fill="#0000ff">i</text><text transform="matrix(0.9759 0 0 0.9759 355.41 622.00)" font-family="Liberation Serif" font-size="12" font-style="italic" letter-spacing="-0.5" fill="#0000ff">q,ref</text><text transform="matrix(1.4678 0 0 1.0061 379.75 615.99)" font-family="Liberation Serif" font-size="22" fill="#0000ff">:</text><text transform="matrix(1.0240 0 0 1.0000 387.63 616.10)" font-family="Liberation Serif" font-size="22" letter-spacing="-2.8" fill="#0000ff">60Hz</text><path d="M427.40 595.00Q437.20 609.85 427.40 624.70Q434.80 609.85 427.40 595.00Z" fill="#0000ff"/></g><g transform="translate(177.6,-0.4)"><path d="M259.5 609.6H286.8" stroke="#66e033" stroke-width="3"/><text transform="matrix(1.0429 0 0 1.0061 290.69 615.99)" font-family="Liberation Serif" font-size="22" fill="#11dd11">:</text><text transform="matrix(0.9631 0 0 1.0533 304.49 615.94)" font-family="Liberation Serif" font-size="25" font-style="italic" font-weight="bold" fill="#11dd11">ω</text><path d="M305.4 597C309 594.6 312 592.6 314.4 592.6C316.8 592.6 320 594.6 323.2 597" stroke="#11dd11" stroke-width="1.2" fill="none"/><text transform="matrix(0.9178 0 0 0.9683 314.23 622.17)" font-family="Liberation Serif" font-size="13.5" font-style="italic" letter-spacing="-1.2" fill="#11dd11">αc</text><path d="M332.20 594.70Q323.80 609.65 332.20 624.60Q326.20 609.65 332.20 594.70Z" fill="#11dd11"/><text transform="matrix(0.9883 0 0 0.9788 334.93 613.36)" font-family="Liberation Serif" font-size="18.5" fill="#11dd11">@</text><text transform="matrix(1.0421 0 0 1.0421 351.34 615.80)" font-family="Liberation Serif" font-size="20" font-style="italic" fill="#11dd11">i</text><text transform="matrix(0.9759 0 0 0.9759 355.41 622.00)" font-family="Liberation Serif" font-size="12" font-style="italic" letter-spacing="-0.5" fill="#11dd11">q,ref</text><text transform="matrix(1.4678 0 0 1.0061 379.75 615.99)" font-family="Liberation Serif" font-size="22" fill="#11dd11">:</text><text transform="matrix(1.0102 0 0 1.0000 388.17 616.10)" font-family="Liberation Serif" font-size="22" letter-spacing="-2.8" fill="#11dd11">40Hz</text><path d="M427.40 595.00Q437.20 609.85 427.40 624.70Q434.80 609.85 427.40 595.00Z" fill="#11dd11"/></g><g transform="translate(177.6,42.8)"><path d="M259.5 609.6H286.8" stroke="#ff0000" stroke-width="3"/><text transform="matrix(1.0429 0 0 1.0061 290.69 615.99)" font-family="Liberation Serif" font-size="22" fill="#ff0000">:</text><text transform="matrix(0.9631 0 0 1.0533 304.49 615.94)" font-family="Liberation Serif" font-size="25" font-style="italic" font-weight="bold" fill="#ff0000">ω</text><path d="M305.4 597C309 594.6 312 592.6 314.4 592.6C316.8 592.6 320 594.6 323.2 597" stroke="#ff0000" stroke-width="1.2" fill="none"/><text transform="matrix(0.9178 0 0 0.9683 314.23 622.17)" font-family="Liberation Serif" font-size="13.5" font-style="italic" letter-spacing="-1.2" fill="#ff0000">αc</text><path d="M332.20 594.70Q323.80 609.65 332.20 624.60Q326.20 609.65 332.20 594.70Z" fill="#ff0000"/><text transform="matrix(0.9883 0 0 0.9788 334.93 613.36)" font-family="Liberation Serif" font-size="18.5" fill="#ff0000">@</text><text transform="matrix(1.0421 0 0 1.0421 351.34 615.80)" font-family="Liberation Serif" font-size="20" font-style="italic" fill="#ff0000">i</text><text transform="matrix(0.9759 0 0 0.9759 355.41 622.00)" font-family="Liberation Serif" font-size="12" font-style="italic" letter-spacing="-0.5" fill="#ff0000">q,ref</text><text transform="matrix(1.4678 0 0 1.0061 379.75 615.99)" font-family="Liberation Serif" font-size="22" fill="#ff0000">:</text><text transform="matrix(1.0246 0 0 1.0000 387.61 616.10)" font-family="Liberation Serif" font-size="22" letter-spacing="-2.8" fill="#ff0000">20Hz</text><path d="M427.40 595.00Q437.20 609.85 427.40 624.70Q434.80 609.85 427.40 595.00Z" fill="#ff0000"/></g><g fill="#fff"><rect x="0" y="0" width="33" height="19.5"/><rect x="253" y="0" width="37.2" height="19.5"/><rect x="497" y="0" width="36.9" height="19.5"/><rect x="200" y="360" width="75" height="24"/></g><path d="M27.5 7.4V317.0H251.2M27.5 265.43h3.2M27.5 213.85h3.2M27.5 162.28h3.2M27.5 110.70h3.2M27.5 59.12h3.2M108.50 317.0v-3.2M189.50 317.0v-3.2M280.6 7.4V317.0H495.7M280.6 265.43h3.2M280.6 213.85h3.2M280.6 162.28h3.2M280.6 110.70h3.2M280.6 59.12h3.2M361.80 317.0v-3.2M443.00 317.0v-3.2M523.4 7.4V317.0H748.5M523.4 265.43h3.2M523.4 213.85h3.2M523.4 162.28h3.2M523.4 110.70h3.2M523.4 59.12h3.2M604.40 317.0v-3.2M685.40 317.0v-3.2M256.6 371.2V680.30H616.8M256.6 371.2H616.8M256.6 636.14h3.2M256.6 591.98h3.2M256.6 547.82h3.2M256.6 503.66h3.2M256.6 459.50h3.2M256.6 415.34h3.2M336.70 680.30v-3.2M416.80 680.30v-3.2M496.90 680.30v-3.2M577.00 680.30v-3.2" stroke="#505050" stroke-width="1.1" fill="none"/><path d="M27.5 7.4H251.2M108.50 7.4v3.2M189.50 7.4v3.2M280.6 7.4H495.7M361.80 7.4v3.2M443.00 7.4v3.2M523.4 7.4H748.5M604.40 7.4v3.2M685.40 7.4v3.2M336.70 371.2v3.2M416.80 371.2v3.2M496.90 371.2v3.2M577.00 371.2v3.2" stroke="#333333" stroke-width="1.4" fill="none"/><path d="M251.2 6.800000000000001V317.0M495.7 6.800000000000001V317.0M748.5 6.800000000000001V317.0M616.8 370.59999999999997V680.30" stroke="#333333" stroke-width="1.8" fill="none"/><g fill="#fff"><rect x="0" y="0" width="33" height="19.5"/><rect x="253" y="0" width="37.2" height="19.5"/><rect x="497" y="0" width="36.9" height="19.5"/><rect x="205" y="360" width="70" height="24.2"/></g><text transform="matrix(0.9954 0 0 0.9954 2.61 14.60)" font-family="Liberation Serif" font-size="18.8" font-weight="bold" fill="#000">[A]</text><text transform="matrix(0.9954 0 0 0.9954 258.61 14.60)" font-family="Liberation Serif" font-size="18.8" font-weight="bold" fill="#000">[A]</text><text transform="matrix(0.9954 0 0 0.9954 502.61 14.60)" font-family="Liberation Serif" font-size="18.8" font-weight="bold" fill="#000">[A]</text><text transform="matrix(1.0125 0 0 1.0125 215.39 378.60)" font-family="Liberation Serif" font-size="18.8" font-weight="bold" fill="#000">[rad/s]</text><text transform="matrix(1.0146 0 0 0.9734 106.50 362.90)" font-family="Liberation Serif" font-size="18.8" font-weight="bold" fill="#000">Time(sec)</text><text transform="matrix(1.0146 0 0 0.9734 358.50 362.90)" font-family="Liberation Serif" font-size="18.8" font-weight="bold" fill="#000">Time(sec)</text><text transform="matrix(1.0146 0 0 0.9734 604.30 362.90)" font-family="Liberation Serif" font-size="18.8" font-weight="bold" fill="#000">Time(sec)</text><text transform="matrix(1.0146 0 0 0.9734 386.90 723.40)" font-family="Liberation Serif" font-size="18.8" font-weight="bold" fill="#000">Time(sec)</text><text transform="matrix(1.0023 0 0 1.0023 111.65 80.00)" font-family="Liberation Serif" font-size="14.5" font-weight="bold" fill="#000">Magnitude</text><text transform="matrix(1.0088 0 0 1.0088 114.24 95.70)" font-family="Liberation Serif" font-size="14.5" font-weight="bold" fill="#000">Distortion</text><text transform="matrix(0.9796 0 0 0.9796 124.46 153.80)" font-family="Liberation Serif" font-size="14.5" font-weight="bold" fill="#000">Phase</text><text transform="matrix(1.0103 0 0 1.0103 124.44 170.30)" font-family="Liberation Serif" font-size="14.5" font-weight="bold" fill="#000">Delay</text><g fill="#000" stroke="#000"><path d="M177.4 63V105" stroke-width="1.3"/><path d="M177.4 58l-3 7h6z" stroke="none"/><path d="M177.4 110.2l-3 -7h6z" stroke="none"/><path d="M138 141H153.5" stroke-width="1.3"/><path d="M133 141l7 -3v6z" stroke="none"/><path d="M158.5 141l-7 -3v6z" stroke="none"/></g></svg></body></html>
